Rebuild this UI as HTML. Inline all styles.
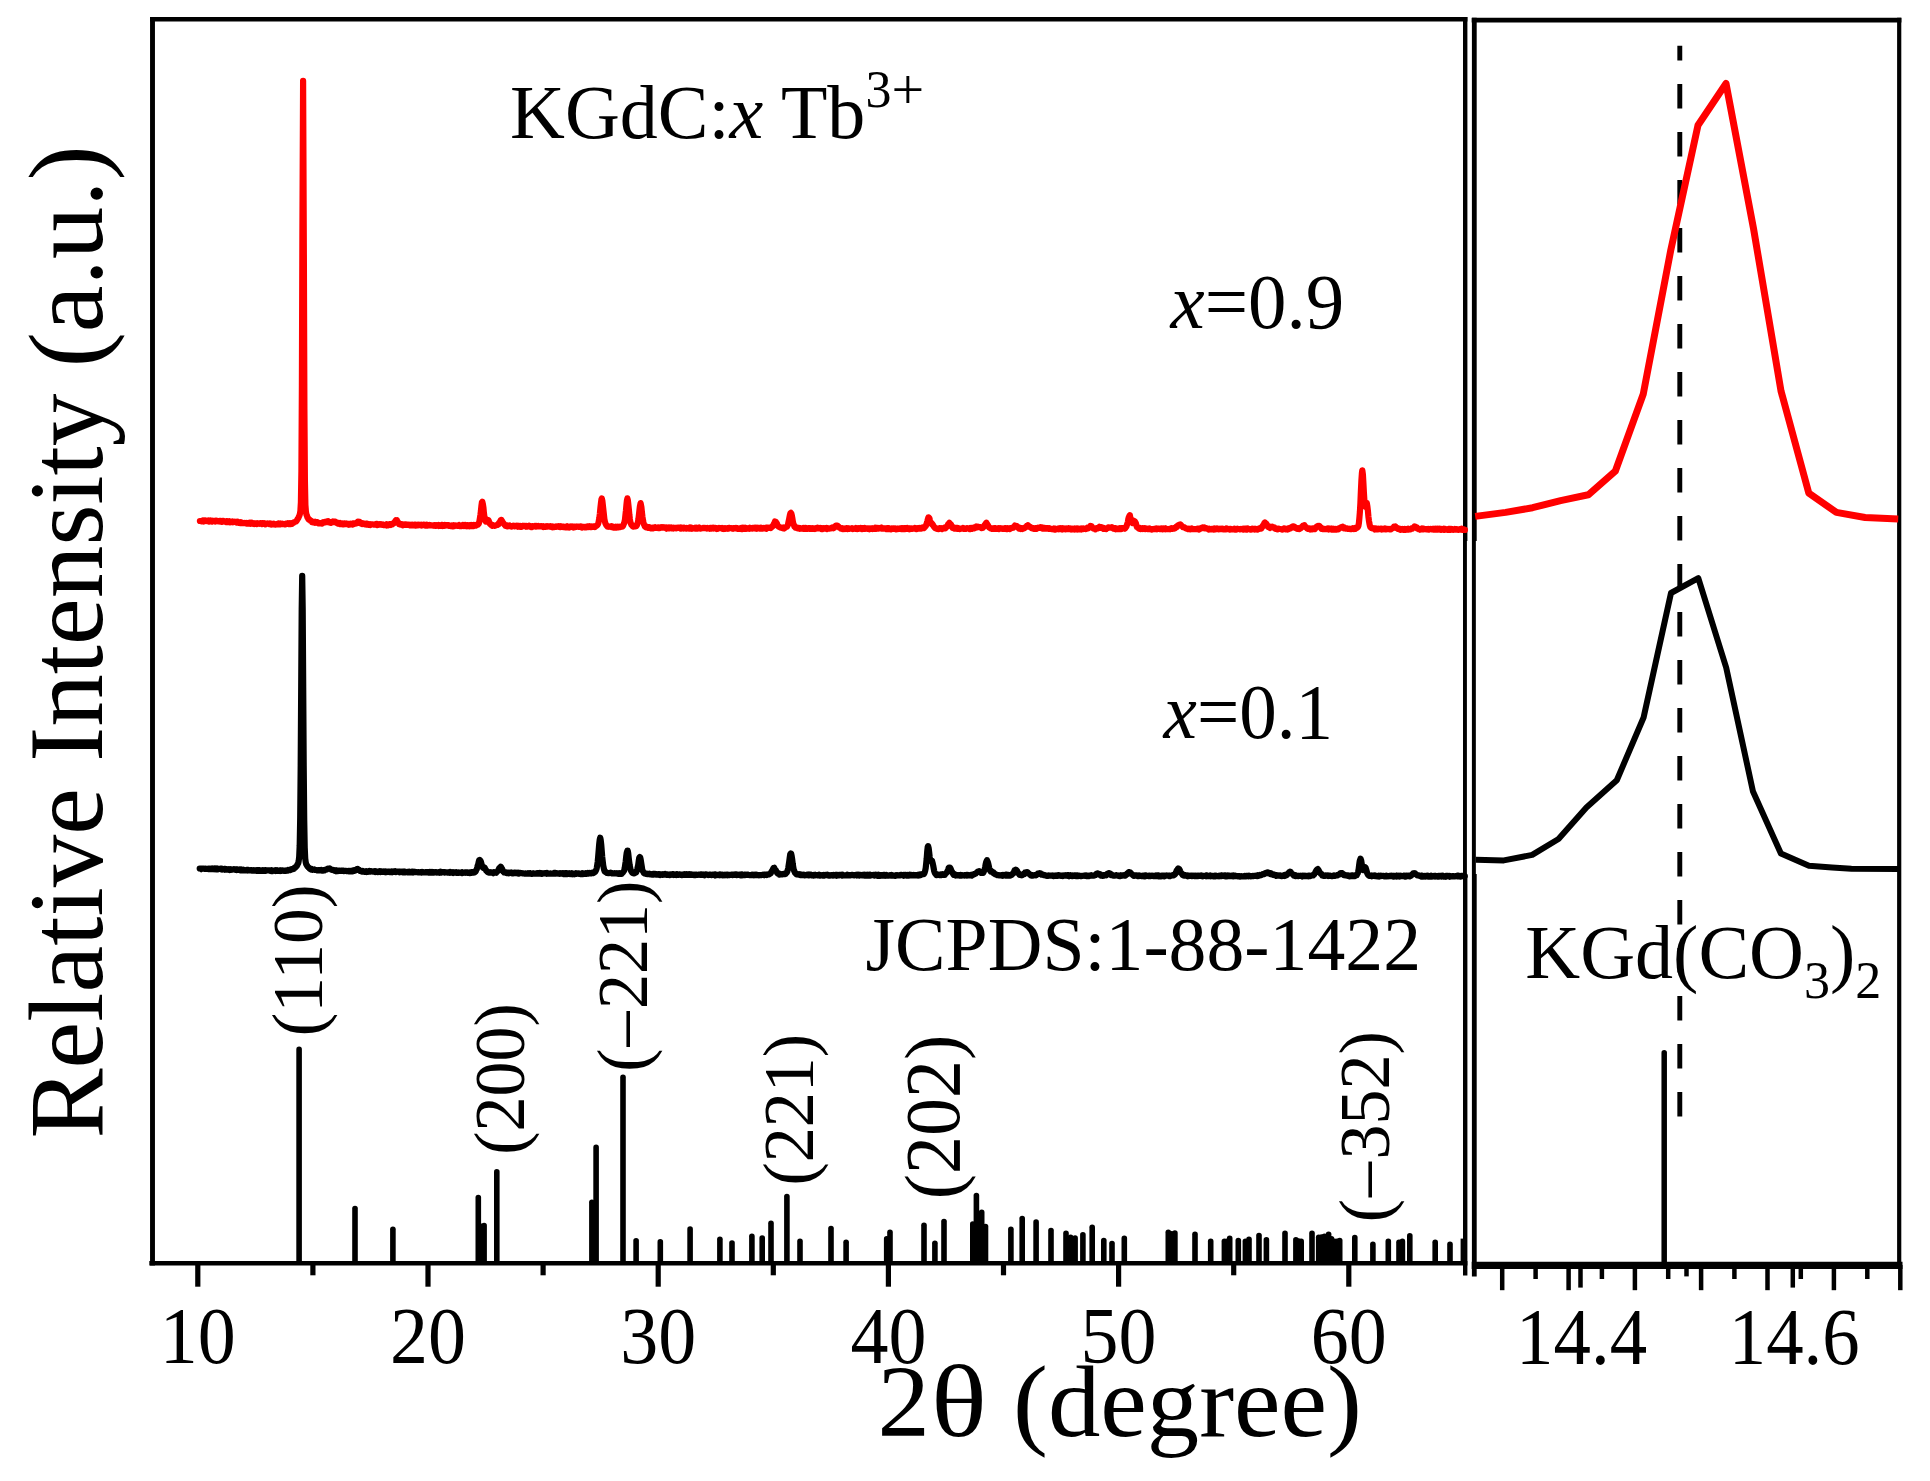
<!DOCTYPE html>
<html lang="en"><head><meta charset="utf-8"><title>XRD patterns of KGdC:x Tb3+</title>
<style>html,body{margin:0;padding:0;background:#fff}svg{display:block}text{font-family:"Liberation Serif","Times New Roman",Times,serif;fill:#000}.i{font-style:italic}</style></head><body>
<svg width="1930" height="1481" viewBox="0 0 1930 1481">
<rect width="1930" height="1481" fill="#fff"/>
<g stroke="#000" stroke-width="5.6" stroke-linecap="round">
<line x1="299.1" y1="1049.4" x2="299.1" y2="1262.3"/>
<line x1="355" y1="1208.6" x2="355" y2="1262.3"/>
<line x1="392.9" y1="1229.3" x2="392.9" y2="1262.3"/>
<line x1="478.3" y1="1197.6" x2="478.3" y2="1262.3"/>
<line x1="484.1" y1="1225.5" x2="484.1" y2="1262.3"/>
<line x1="496.8" y1="1171.7" x2="496.8" y2="1262.3"/>
<line x1="591.9" y1="1202.3" x2="591.9" y2="1262.3"/>
<line x1="596.1" y1="1147.4" x2="596.1" y2="1262.3"/>
<line x1="623" y1="1077.4" x2="623" y2="1262.3"/>
<line x1="636.1" y1="1240.7" x2="636.1" y2="1262.3"/>
<line x1="660.3" y1="1241.9" x2="660.3" y2="1262.3"/>
<line x1="690.1" y1="1229" x2="690.1" y2="1262.3"/>
<line x1="719.9" y1="1239.2" x2="719.9" y2="1262.3"/>
<line x1="732" y1="1243.1" x2="732" y2="1262.3"/>
<line x1="751.9" y1="1236.4" x2="751.9" y2="1262.3"/>
<line x1="762.2" y1="1238.1" x2="762.2" y2="1262.3"/>
<line x1="771" y1="1223.2" x2="771" y2="1262.3"/>
<line x1="786.9" y1="1196.6" x2="786.9" y2="1262.3"/>
<line x1="800" y1="1241.4" x2="800" y2="1262.3"/>
<line x1="831" y1="1228.6" x2="831" y2="1262.3"/>
<line x1="846.1" y1="1242.2" x2="846.1" y2="1262.3"/>
<line x1="886.7" y1="1238.9" x2="886.7" y2="1262.3"/>
<line x1="890" y1="1232.3" x2="890" y2="1262.3"/>
<line x1="924" y1="1225.3" x2="924" y2="1262.3"/>
<line x1="934.9" y1="1243.3" x2="934.9" y2="1262.3"/>
<line x1="944" y1="1221.5" x2="944" y2="1262.3"/>
<line x1="972.8" y1="1224" x2="972.8" y2="1262.3"/>
<line x1="976.4" y1="1195.5" x2="976.4" y2="1262.3"/>
<line x1="981.7" y1="1212.4" x2="981.7" y2="1262.3"/>
<line x1="985.5" y1="1226.5" x2="985.5" y2="1262.3"/>
<line x1="1010.9" y1="1229.3" x2="1010.9" y2="1262.3"/>
<line x1="1022.2" y1="1218.5" x2="1022.2" y2="1262.3"/>
<line x1="1036.1" y1="1222" x2="1036.1" y2="1262.3"/>
<line x1="1051" y1="1230.6" x2="1051" y2="1262.3"/>
<line x1="1066" y1="1233.4" x2="1066" y2="1262.3"/>
<line x1="1070.6" y1="1237.3" x2="1070.6" y2="1262.3"/>
<line x1="1075.1" y1="1238.1" x2="1075.1" y2="1262.3"/>
<line x1="1082.9" y1="1234.8" x2="1082.9" y2="1262.3"/>
<line x1="1092.2" y1="1227.3" x2="1092.2" y2="1262.3"/>
<line x1="1103.8" y1="1240.6" x2="1103.8" y2="1262.3"/>
<line x1="1112" y1="1243.6" x2="1112" y2="1262.3"/>
<line x1="1124.3" y1="1238.4" x2="1124.3" y2="1262.3"/>
<line x1="1168.3" y1="1232.3" x2="1168.3" y2="1262.3"/>
<line x1="1171.6" y1="1233.8" x2="1171.6" y2="1262.3"/>
<line x1="1174.9" y1="1233.1" x2="1174.9" y2="1262.3"/>
<line x1="1195" y1="1234.3" x2="1195" y2="1262.3"/>
<line x1="1210.7" y1="1241.4" x2="1210.7" y2="1262.3"/>
<line x1="1224.4" y1="1241.4" x2="1224.4" y2="1262.3"/>
<line x1="1229.7" y1="1238.4" x2="1229.7" y2="1262.3"/>
<line x1="1238.3" y1="1240.6" x2="1238.3" y2="1262.3"/>
<line x1="1245.4" y1="1241.4" x2="1245.4" y2="1262.3"/>
<line x1="1249" y1="1239.2" x2="1249" y2="1262.3"/>
<line x1="1259" y1="1235.6" x2="1259" y2="1262.3"/>
<line x1="1266.4" y1="1239.7" x2="1266.4" y2="1262.3"/>
<line x1="1285" y1="1233.4" x2="1285" y2="1262.3"/>
<line x1="1295.9" y1="1239.7" x2="1295.9" y2="1262.3"/>
<line x1="1301.2" y1="1241.4" x2="1301.2" y2="1262.3"/>
<line x1="1312" y1="1233.4" x2="1312" y2="1262.3"/>
<line x1="1318.7" y1="1237.3" x2="1318.7" y2="1262.3"/>
<line x1="1324.5" y1="1236.4" x2="1324.5" y2="1262.3"/>
<line x1="1328.6" y1="1234.3" x2="1328.6" y2="1262.3"/>
<line x1="1334.4" y1="1241.4" x2="1334.4" y2="1262.3"/>
<line x1="1339.7" y1="1240.6" x2="1339.7" y2="1262.3"/>
<line x1="1354.8" y1="1237.6" x2="1354.8" y2="1262.3"/>
<line x1="1372.9" y1="1244.4" x2="1372.9" y2="1262.3"/>
<line x1="1388.3" y1="1241.4" x2="1388.3" y2="1262.3"/>
<line x1="1399" y1="1242.2" x2="1399" y2="1262.3"/>
<line x1="1402.4" y1="1241.4" x2="1402.4" y2="1262.3"/>
<line x1="1298.5" y1="1241" x2="1298.5" y2="1262.3"/>
<line x1="1321.6" y1="1237" x2="1321.6" y2="1262.3"/>
<line x1="1331.5" y1="1238.8" x2="1331.5" y2="1262.3"/>
<line x1="1337" y1="1241.4" x2="1337" y2="1262.3"/>
<line x1="1227" y1="1241.2" x2="1227" y2="1262.3"/>
<line x1="481.2" y1="1226.3" x2="481.2" y2="1262.3"/>
<line x1="1409.8" y1="1235.9" x2="1409.8" y2="1262.3"/>
<line x1="1435.2" y1="1242.2" x2="1435.2" y2="1262.3"/>
<line x1="1450" y1="1244.4" x2="1450" y2="1262.3"/>
</g>
<rect x="1460.6" y="1238.6" width="4" height="24" fill="#000"/>
<g fill="none" stroke="#000">
<line x1="152.5" y1="16.9" x2="152.5" y2="1265.6" stroke-width="4.9"/>
<line x1="150" y1="19.2" x2="1467.4" y2="19.2" stroke-width="4.6"/>
<line x1="149.3" y1="1263.3" x2="1467.4" y2="1263.3" stroke-width="4.6"/>
<path d="M1463 16.9H1467.4V541H1466.9V874H1467.4V1275.6H1463Z" fill="#000" stroke="none"/>
</g>
<g stroke="#000" stroke-width="5.2">
<line x1="197.8" y1="1263" x2="197.8" y2="1286.7"/>
<line x1="428" y1="1263" x2="428" y2="1286.7"/>
<line x1="658.2" y1="1263" x2="658.2" y2="1286.7"/>
<line x1="888.4" y1="1263" x2="888.4" y2="1286.7"/>
<line x1="1118.6" y1="1263" x2="1118.6" y2="1286.7"/>
<line x1="1348.8" y1="1263" x2="1348.8" y2="1286.7"/>
<line x1="312.9" y1="1263" x2="312.9" y2="1275.3"/>
<line x1="543.1" y1="1263" x2="543.1" y2="1275.3"/>
<line x1="773.3" y1="1263" x2="773.3" y2="1275.3"/>
<line x1="1003.5" y1="1263" x2="1003.5" y2="1275.3"/>
<line x1="1233.7" y1="1263" x2="1233.7" y2="1275.3"/>
</g>
<g fill="none" stroke="#000">
<path d="M1471.9 17.8H1476.7V541H1475.85V874H1476.7V1276.4H1471.9Z" fill="#000" stroke="none"/>
<line x1="1471.7" y1="20.1" x2="1901.4" y2="20.1" stroke-width="4.7"/>
<line x1="1899.2" y1="17.8" x2="1899.2" y2="1266" stroke-width="4.2"/>
<line x1="1471.7" y1="1265.3" x2="1902.5" y2="1265.3" stroke-width="7.2"/>
</g>
<g stroke="#000" stroke-width="4.5">
<line x1="1502.2" y1="1265" x2="1502.2" y2="1290.2"/>
<line x1="1568.6" y1="1265" x2="1568.6" y2="1290.2"/>
<line x1="1634.9" y1="1265" x2="1634.9" y2="1290.2"/>
<line x1="1701.1" y1="1265" x2="1701.1" y2="1290.2"/>
<line x1="1767.5" y1="1265" x2="1767.5" y2="1290.2"/>
<line x1="1833.9" y1="1265" x2="1833.9" y2="1290.2"/>
<line x1="1900.3" y1="1265" x2="1900.3" y2="1290.2"/>
<line x1="1535.6" y1="1265" x2="1535.6" y2="1279"/>
<line x1="1601.9" y1="1265" x2="1601.9" y2="1279"/>
<line x1="1668.2" y1="1265" x2="1668.2" y2="1279"/>
<line x1="1734.4" y1="1265" x2="1734.4" y2="1279"/>
<line x1="1800.8" y1="1265" x2="1800.8" y2="1279"/>
<line x1="1867.3" y1="1265" x2="1867.3" y2="1279"/>
<line x1="1580.5" y1="1265" x2="1580.5" y2="1287.6"/>
<line x1="1792.8" y1="1265" x2="1792.8" y2="1287.6"/>
<line x1="1686.5" y1="1265" x2="1686.5" y2="1276.4"/>
</g>
<polyline points="199.7,868.5 200.2,868.5 200.7,868.6 201.2,869.1 201.7,868.6 202.2,868.5 202.7,868.5 203.2,868.6 203.7,868.7 204.2,868.7 204.7,868.9 205.2,868.5 205.7,868.6 206.2,868.5 206.7,869 207.2,869 207.7,868.9 208.2,868.7 208.7,869.1 209.2,869.2 209.7,868.5 210.2,868.6 210.7,868.6 211.2,868.8 211.7,869.1 212.2,868.6 212.7,869 213.2,869.1 213.7,868.7 214.2,869.3 214.7,869.2 215.2,868.6 215.7,869.3 216.2,869.3 216.7,869.3 217.2,868.6 217.7,869.4 218.2,869.2 218.7,868.8 219.2,868.9 219.7,868.8 220.2,868.7 220.7,868.7 221.2,869.2 221.7,868.8 222.2,869.4 222.7,869 223.2,869.4 223.7,869.5 224.2,869.1 224.7,869.6 225.2,869.1 225.7,869.6 226.2,869.4 226.7,869.2 227.2,869.6 227.7,869.3 228.2,869.2 228.7,869.5 229.2,869.3 229.7,869.9 230.2,869.3 230.7,869.9 231.2,869.6 231.7,869.3 232.2,869.6 232.7,869.5 233.2,869.5 233.7,869.2 234.2,869.4 234.7,869.7 235.2,869.8 235.7,869.4 236.2,869.3 236.7,869.9 237.2,869.4 237.7,869.5 238.2,869.6 238.7,869.9 239.2,870 239.7,869.5 240.2,870.3 240.7,870.2 241.2,869.6 241.7,870.2 242.2,869.9 242.7,870.2 243.2,869.7 243.7,870.3 244.2,870.4 244.7,870.3 245.2,870.5 245.7,870.3 246.2,870.4 246.7,869.9 247.2,869.9 247.7,870.4 248.2,870 248.7,870.2 249.2,870.4 249.7,870.5 250.2,870.4 250.7,870 251.2,870.1 251.7,870.6 252.2,870.6 252.7,870.5 253.2,870.2 253.7,870.6 254.2,870.5 254.7,870.3 255.2,870.7 255.7,870.5 256.2,870.2 256.7,870.8 257.2,870.6 257.7,870.2 258.2,870.8 258.7,870.2 259.2,870.2 259.7,870.2 260.2,870.3 260.7,870.9 261.2,870.7 261.7,870.9 262.2,870.8 262.7,870.3 263.2,870.9 263.7,870.8 264.2,870.8 264.7,870.9 265.2,870.3 265.7,870.8 266.2,870.3 266.7,870.4 267.2,870.5 267.7,870.4 268.2,870.5 268.7,870.4 269.2,870.3 269.7,870.3 270.2,870.8 270.7,870.5 271.2,871 271.7,870.4 272.2,871 272.7,870.5 273.2,870.5 273.7,870.6 274.2,870.7 274.7,870.6 275.2,870.9 275.7,870.2 276.2,870.3 276.7,870.2 277.2,870.8 277.7,870.5 278.2,870.5 278.7,870.8 279.2,870.5 279.7,870.3 280.2,871 280.7,870.5 281.2,870.8 281.7,870.9 282.2,870.5 282.7,870.4 283.2,870.6 283.7,870.9 284.2,870.7 284.7,870.5 285.2,870.5 285.7,870.9 286.2,870.7 286.7,870.5 287.2,870.7 287.7,870.6 288.2,869.9 288.7,870.3 289.2,870.2 289.7,870.2 290.2,870.1 290.7,869.4 291.2,869.1 291.7,869.2 292.2,869.3 292.7,868.8 293.2,868.6 293.7,868.8 294.2,868 294.7,867.7 295.2,867.7 295.7,866.8 296.2,866.6 296.7,866.2 297.2,865.2 297.7,864 298.2,863.3 298.7,861 299.2,856.7 299.7,845.5 300.2,818 300.7,765.1 301.2,686.7 301.7,609.5 302.2,575.8 302.7,609.9 303.2,687.8 303.7,765.4 304.2,819.2 304.7,847.4 305.2,858.5 305.7,862.2 306.2,864.2 306.7,865 307.2,865.9 307.7,866.7 308.2,867.1 308.7,867.7 309.2,868 309.7,868.7 310.2,869 310.7,868.9 311.2,869.5 311.7,869.1 312.2,869.6 312.7,869.8 313.2,869.7 313.7,869.7 314.2,869.4 314.7,869.9 315.2,870 315.7,870 316.2,870 316.7,870.1 317.2,870.3 317.7,870.5 318.2,870.2 318.7,870.1 319.2,870.4 319.7,870.2 320.2,870.4 320.7,870.2 321.2,870 321.7,870.6 322.2,870.5 322.7,870.6 323.2,870.6 323.7,870.2 324.2,870.5 324.7,870.4 325.2,869.9 325.7,869.7 326.2,869.5 326.7,869.5 327.2,869.1 327.7,868.7 328.2,868.7 328.7,868.5 329.2,868.7 329.7,868.4 330.2,868.8 330.7,869.1 331.2,869.5 331.7,869.8 332.2,869.7 332.7,869.9 333.2,870 333.7,870.2 334.2,870.5 334.7,870.9 335.2,870.5 335.7,870.4 336.2,871.2 336.7,870.5 337.2,870.7 337.7,871.1 338.2,870.9 338.7,870.5 339.2,870.6 339.7,870.7 340.2,871 340.7,870.8 341.2,871 341.7,871 342.2,870.6 342.7,870.5 343.2,870.7 343.7,871.1 344.2,870.9 344.7,870.8 345.2,870.8 345.7,871 346.2,870.8 346.7,871.1 347.2,871.2 347.7,871.1 348.2,870.9 348.7,871.3 349.2,871 349.7,871.5 350.2,871.5 350.7,871 351.2,871.4 351.7,871.2 352.2,870.8 352.7,871.3 353.2,870.6 353.7,871 354.2,870.9 354.7,870.2 355.2,870.6 355.7,870.1 356.2,870.1 356.7,869.2 357.2,869.5 357.7,869 358.2,869.6 358.7,869.7 359.2,869.8 359.7,870.6 360.2,871 360.7,870.9 361.2,871.3 361.7,871.2 362.2,871.5 362.7,871 363.2,871.2 363.7,871.4 364.2,871.7 364.7,871.9 365.2,871.9 365.7,871.7 366.2,871.2 366.7,871.9 367.2,871.6 367.7,871.8 368.2,871.6 368.7,871.4 369.2,871 369.7,871.6 370.2,871.4 370.7,871.6 371.2,871.2 371.7,871.4 372.2,871.3 372.7,871.6 373.2,871.6 373.7,871.5 374.2,871.2 374.7,871.5 375.2,872 375.7,871.3 376.2,872 376.7,871.9 377.2,871.6 377.7,872.1 378.2,871.9 378.7,871.7 379.2,871.9 379.7,871.3 380.2,872.1 380.7,872.1 381.2,871.5 381.7,871.8 382.2,871.5 382.7,871.5 383.2,871.9 383.7,871.5 384.2,871.8 384.7,871.6 385.2,872.1 385.7,871.6 386.2,872 386.7,872.2 387.2,871.8 387.7,871.5 388.2,871.5 388.7,871.8 389.2,871.6 389.7,872.2 390.2,872.1 390.7,872.2 391.2,872.1 391.7,871.5 392.2,872.2 392.7,871.8 393.2,871.4 393.7,871.6 394.2,871.7 394.7,871.9 395.2,871.4 395.7,872 396.2,871.8 396.7,871.8 397.2,871.8 397.7,871.7 398.2,871.5 398.7,871.7 399.2,871.6 399.7,872.2 400.2,871.6 400.7,871.9 401.2,871.7 401.7,871.8 402.2,871.6 402.7,872.2 403.2,871.7 403.7,871.6 404.2,872.2 404.7,871.6 405.2,871.7 405.7,872.3 406.2,872.2 406.7,872.1 407.2,871.8 407.7,871.8 408.2,872.4 408.7,872.2 409.2,871.8 409.7,872.4 410.2,872.2 410.7,872.4 411.2,872 411.7,871.7 412.2,871.6 412.7,871.6 413.2,872.4 413.7,871.9 414.2,872 414.7,871.8 415.2,871.8 415.7,872.2 416.2,872 416.7,872.1 417.2,872 417.7,872.3 418.2,872.1 418.7,872.2 419.2,872.4 419.7,872.5 420.2,872.1 420.7,872.5 421.2,872.5 421.7,872.6 422.2,872 422.7,872.4 423.2,872.2 423.7,872.3 424.2,872.3 424.7,872.4 425.2,872.5 425.7,872.2 426.2,872 426.7,872.3 427.2,872.3 427.7,872.1 428.2,872.5 428.7,872.6 429.2,872.2 429.7,872 430.2,872.7 430.7,872.5 431.2,872.7 431.7,872.6 432.2,872 432.7,872.3 433.2,872.1 433.7,872.6 434.2,872.4 434.7,872.4 435.2,872.1 435.7,872 436.2,872 436.7,872.6 437.2,872.5 437.7,872.4 438.2,872.5 438.7,872.4 439.2,872.7 439.7,872 440.2,872.5 440.7,871.8 441.2,872.5 441.7,872.3 442.2,872.4 442.7,872.1 443.2,872 443.7,872.1 444.2,872.3 444.7,872.5 445.2,872.1 445.7,872.4 446.2,872.4 446.7,872.3 447.2,872.6 447.7,872.3 448.2,872.5 448.7,872.7 449.2,872.3 449.7,872.7 450.2,872.1 450.7,872.7 451.2,872.7 451.7,872.6 452.2,872.3 452.7,872.2 453.2,872.9 453.7,872.4 454.2,872.3 454.7,872.4 455.2,872.3 455.7,872.7 456.2,872.2 456.7,872.9 457.2,872.8 457.7,873 458.2,872.9 458.7,872.4 459.2,872.8 459.7,872.7 460.2,872.5 460.7,872.6 461.2,872.5 461.7,873 462.2,872.4 462.7,873.1 463.2,872.4 463.7,872.6 464.2,872.7 464.7,872.4 465.2,872.8 465.7,872.4 466.2,872.6 466.7,872.4 467.2,872.8 467.7,872.4 468.2,872.8 468.7,872.8 469.2,872.5 469.7,873.1 470.2,872.8 470.7,872.7 471.2,872.3 471.7,872.8 472.2,872.3 472.7,872 473.2,872.2 473.7,872.5 474.2,871.9 474.7,872.3 475.2,871.4 475.7,871.5 476.2,870 476.7,869.3 477.2,867.6 477.7,865.6 478.2,864.3 478.7,861.9 479.2,860.2 479.7,859.9 480.2,860.3 480.7,861.2 481.2,862.9 481.7,864.8 482.2,866 482.7,867.4 483.2,867.8 483.7,868 484.2,867.5 484.7,867.7 485.2,868.9 485.7,869.7 486.2,870.5 486.7,870.9 487.2,871.7 487.7,872.1 488.2,872.4 488.7,872.7 489.2,872.6 489.7,872.6 490.2,872.2 490.7,872.5 491.2,872.6 491.7,872.3 492.2,872.6 492.7,872.5 493.2,873.1 493.7,872.2 494.2,872.5 494.7,872.3 495.2,872.3 495.7,872.5 496.2,872.7 496.7,871.8 497.2,871.5 497.7,871.1 498.2,870.7 498.7,869.4 499.2,868.3 499.7,867.7 500.2,867.3 500.7,866.7 501.2,867.3 501.7,868.5 502.2,869.1 502.7,870.6 503.2,871.5 503.7,871.8 504.2,872.4 504.7,872.2 505.2,872.1 505.7,872.8 506.2,872.4 506.7,873 507.2,872.6 507.7,872.6 508.2,872.8 508.7,873.3 509.2,872.6 509.7,872.8 510.2,872.8 510.7,872.8 511.2,872.5 511.7,872.8 512.2,873.4 512.7,873.3 513.2,873.4 513.7,872.9 514.2,873.1 514.7,872.7 515.2,872.7 515.7,873.2 516.2,873.2 516.7,872.8 517.2,873.1 517.7,873.4 518.2,872.8 518.7,873.6 519.2,873.2 519.7,873 520.2,872.9 520.7,873.1 521.2,873.2 521.7,873.2 522.2,873.2 522.7,873.3 523.2,873.5 523.7,873.4 524.2,873.7 524.7,873.6 525.2,873.5 525.7,873.4 526.2,873.7 526.7,873.7 527.2,873.6 527.7,873.7 528.2,873.2 528.7,873.3 529.2,873.3 529.7,873.2 530.2,873.6 530.7,873.4 531.2,873.8 531.7,873.8 532.2,873.8 532.7,873.4 533.2,873.5 533.7,873.3 534.2,873.5 534.7,873.6 535.2,873.6 535.7,873.3 536.2,873.7 536.7,873.7 537.2,873 537.7,873.1 538.2,873.3 538.7,873.2 539.2,873.5 539.7,873.1 540.2,873.6 540.7,873.4 541.2,873.8 541.7,873.3 542.2,873.8 542.7,873.4 543.2,873.5 543.7,873.5 544.2,873.3 544.7,873.2 545.2,873.1 545.7,873.1 546.2,873.1 546.7,873.8 547.2,873.1 547.7,873.6 548.2,873.4 548.7,873.7 549.2,873.7 549.7,873.7 550.2,873.4 550.7,873.5 551.2,873.7 551.7,873.5 552.2,873.5 552.7,873.6 553.2,873.7 553.7,873.6 554.2,873 554.7,873.2 555.2,873 555.7,873.6 556.2,873.3 556.7,873.1 557.2,873.3 557.7,873.4 558.2,873.6 558.7,873.5 559.2,873.3 559.7,873.8 560.2,873.2 560.7,873.4 561.2,873.7 561.7,873.4 562.2,873.2 562.7,873.8 563.2,873.7 563.7,874 564.2,873.3 564.7,873.6 565.2,873.3 565.7,873.9 566.2,873.4 566.7,874 567.2,873.5 567.7,873.3 568.2,873.3 568.7,873.4 569.2,873.9 569.7,873.4 570.2,873.8 570.7,874.1 571.2,873.9 571.7,873.4 572.2,874.2 572.7,874.3 573.2,873.5 573.7,873.6 574.2,873.6 574.7,874.1 575.2,873.6 575.7,873.3 576.2,873.8 576.7,873.6 577.2,873.5 577.7,873.3 578.2,873.4 578.7,873.4 579.2,873.5 579.7,874 580.2,874 580.7,874.1 581.2,873.8 581.7,873.8 582.2,873.3 582.7,874.1 583.2,873.8 583.7,874 584.2,873.7 584.7,873.4 585.2,873.8 585.7,873.3 586.2,873.9 586.7,873.9 587.2,873.5 587.7,873.1 588.2,873.6 588.7,873.5 589.2,873.4 589.7,873 590.2,873.4 590.7,873.5 591.2,873 591.7,873.2 592.2,872.7 592.7,873.1 593.2,873.1 593.7,872.9 594.2,872.5 594.7,871.8 595.2,871.9 595.7,870.9 596.2,869.9 596.7,868.3 597.2,865.2 597.7,861.9 598.2,856.3 598.7,850.3 599.2,844.1 599.7,839.8 600.2,837.7 600.7,840 601.2,844.3 601.7,850.6 602.2,856.8 602.7,861.1 603.2,865.4 603.7,867.8 604.2,870 604.7,871.5 605.2,871.4 605.7,872.2 606.2,872.3 606.7,872.8 607.2,873 607.7,873 608.2,873.1 608.7,873.2 609.2,873.2 609.7,872.8 610.2,872.9 610.7,872.7 611.2,873 611.7,873.2 612.2,873.5 612.7,873.4 613.2,873.4 613.7,873.5 614.2,873.3 614.7,873.1 615.2,873.3 615.7,873.4 616.2,873.3 616.7,873.2 617.2,873.6 617.7,873.5 618.2,873.9 618.7,873.7 619.2,873.2 619.7,873.8 620.2,873.9 620.7,873.4 621.2,873.5 621.7,873.7 622.2,872.8 622.7,872.7 623.2,872 623.7,871.3 624.2,870.4 624.7,868.1 625.2,864.7 625.7,861.4 626.2,856.5 626.7,852.9 627.4,850.5 627.7,850.5 628.2,853 628.7,857.8 629.2,861.8 629.7,865.4 630.2,867.8 630.7,870.2 631.2,871 631.7,871.9 632.2,872.7 632.7,873.1 633.2,872.7 633.7,873.3 634.2,872.7 634.7,873.1 635.2,872.8 635.7,872.7 636.2,872.4 636.7,870.8 637.2,869.5 637.7,867.3 638.2,865 638.7,861.2 639.2,857.9 639.8,857 640.2,857.4 640.7,859.7 641.2,863 641.7,866.1 642.2,869.4 642.7,870.9 643.2,871.7 643.7,872.7 644.2,873.2 644.7,873.5 645.2,873.5 645.7,873.8 646.2,873.7 646.7,873.6 647.2,874.2 647.7,874.2 648.2,874.1 648.7,874.1 649.2,873.8 649.7,874.3 650.2,874.4 650.7,874.4 651.2,874.2 651.7,874.5 652.2,874.2 652.7,874.6 653.2,874 653.7,874.4 654.2,873.8 654.7,873.9 655.2,874.3 655.7,874.5 656.2,874.6 656.7,874.2 657.2,874.6 657.7,874.5 658.2,874.1 658.7,874.2 659.2,874.8 659.7,874.3 660.2,874.9 660.7,874.3 661.2,874.4 661.7,874.3 662.2,874.5 662.7,874.8 663.2,874.2 663.7,874.5 664.2,874.6 664.7,874.6 665.2,874.1 665.7,874.5 666.2,874.7 666.7,874.9 667.2,874.4 667.7,874.5 668.2,874.6 668.7,874.9 669.2,874.9 669.7,875.1 670.2,874.5 670.7,874.9 671.2,874.8 671.7,874.3 672.2,874.2 672.7,874.4 673.2,874.9 673.7,874.2 674.2,874.8 674.7,874.6 675.2,874.5 675.7,874.5 676.2,874.9 676.7,874.3 677.2,874.7 677.7,874.5 678.2,874.9 678.7,874.6 679.2,874.4 679.7,874.5 680.2,874.8 680.7,874.5 681.2,874.5 681.7,875 682.2,874.7 682.7,874.7 683.2,874.5 683.7,874.4 684.2,874.8 684.7,874.3 685.2,874.8 685.7,874.6 686.2,874.8 686.7,874.2 687.2,874.7 687.7,874.8 688.2,874.6 688.7,874.8 689.2,874.2 689.7,874.9 690.2,874.9 690.7,874.3 691.2,874.4 691.7,874.5 692.2,875 692.7,874.9 693.2,874.7 693.7,874.9 694.2,875.1 694.7,874.7 695.2,874.7 695.7,875.1 696.2,874.7 696.7,874.6 697.2,874.9 697.7,874.9 698.2,874.7 698.7,874.6 699.2,874.6 699.7,874.7 700.2,874.9 700.7,874.3 701.2,874.4 701.7,874.9 702.2,874.7 702.7,874.5 703.2,874.8 703.7,874.5 704.2,874.6 704.7,875.2 705.2,874.5 705.7,874.4 706.2,874.3 706.7,874.5 707.2,874.6 707.7,874.8 708.2,875.1 708.7,874.8 709.2,874.6 709.7,874.8 710.2,874.6 710.7,874.7 711.2,874.8 711.7,875 712.2,874.6 712.7,874.8 713.2,874.7 713.7,874.7 714.2,875.1 714.7,874.6 715.2,875.4 715.7,874.6 716.2,875 716.7,875.1 717.2,875 717.7,874.9 718.2,874.8 718.7,874.6 719.2,875.1 719.7,874.6 720.2,875 720.7,874.7 721.2,875.1 721.7,874.7 722.2,874.6 722.7,875.3 723.2,875 723.7,875 724.2,874.8 724.7,875.2 725.2,874.7 725.7,874.8 726.2,874.9 726.7,874.5 727.2,874.6 727.7,875.2 728.2,874.9 728.7,874.8 729.2,875.2 729.7,874.9 730.2,874.8 730.7,874.9 731.2,874.7 731.7,874.6 732.2,874.9 732.7,875.1 733.2,874.7 733.7,874.6 734.2,874.6 734.7,874.9 735.2,874.5 735.7,874.4 736.2,874.9 736.7,875.1 737.2,874.5 737.7,874.6 738.2,874.6 738.7,874.9 739.2,874.5 739.7,874.6 740.2,875.3 740.7,875.3 741.2,875.2 741.7,874.6 742.2,875.2 742.7,874.7 743.2,875.1 743.7,874.9 744.2,874.6 744.7,874.7 745.2,875.1 745.7,874.7 746.2,874.9 746.7,874.8 747.2,874.5 747.7,874.6 748.2,875 748.7,874.9 749.2,875.2 749.7,875.1 750.2,875.1 750.7,875.2 751.2,874.9 751.7,875.1 752.2,874.6 752.7,874.8 753.2,875.2 753.7,875.3 754.2,874.8 754.7,874.7 755.2,874.7 755.7,875.1 756.2,875.2 756.7,874.6 757.2,874.9 757.7,875.2 758.2,875 758.7,875.1 759.2,875.3 759.7,875.2 760.2,875.2 760.7,875.2 761.2,875.2 761.7,875 762.2,874.8 762.7,875 763.2,874.9 763.7,874.6 764.2,875.1 764.7,874.6 765.2,874.6 765.7,874.7 766.2,874.7 766.7,875 767.2,874.7 767.7,874.5 768.2,874.4 768.7,874.5 769.2,874.4 769.7,873.9 770.2,873.6 770.7,873.4 771.2,872.1 771.7,871.3 772.2,870.6 772.7,869.9 773.2,868.6 773.7,868 774.2,867.8 774.7,869 775.2,869.6 775.7,870.1 776.2,871 776.7,871.9 777.2,873.1 777.7,873.4 778.2,873.9 778.7,873.9 779.2,874.5 779.7,873.9 780.2,874.5 780.7,874.5 781.2,874.3 781.7,874.5 782.2,874.2 782.7,874.3 783.2,874 783.7,873.9 784.2,873.9 784.7,874.1 785.2,874.1 785.7,873.8 786.2,872.9 786.7,872.7 787.2,871.8 787.7,870 788.2,868.3 788.7,864.9 789.2,861.6 789.7,857.9 790.2,854.4 790.8,853.4 791.2,853.8 791.7,856.2 792.2,859.5 792.7,863.6 793.2,866.7 793.7,869.5 794.2,870.9 794.7,872 795.2,873.1 795.7,873.1 796.2,874 796.7,874.3 797.2,873.9 797.7,874.3 798.2,874.7 798.7,874.5 799.2,874.2 799.7,874.5 800.2,875 800.7,874.5 801.2,875 801.7,874.6 802.2,874.9 802.7,875.1 803.2,875.2 803.7,874.7 804.2,875.3 804.7,875.3 805.2,875.3 805.7,875.2 806.2,875.1 806.7,875.2 807.2,874.6 807.7,874.6 808.2,875.3 808.7,874.8 809.2,875.3 809.7,874.7 810.2,874.5 810.7,874.7 811.2,875.2 811.7,875.4 812.2,875.2 812.7,875.1 813.2,875.2 813.7,875.5 814.2,874.8 814.7,874.9 815.2,875.3 815.7,874.9 816.2,875.2 816.7,875 817.2,875.3 817.7,875.1 818.2,875.4 818.7,875.5 819.2,874.9 819.7,875.5 820.2,874.9 820.7,875.3 821.2,875.5 821.7,875.3 822.2,875.1 822.7,875.5 823.2,875.3 823.7,874.9 824.2,875.5 824.7,875.3 825.2,875 825.7,874.8 826.2,874.9 826.7,875.1 827.2,874.7 827.7,875.3 828.2,875 828.7,875.5 829.2,875.2 829.7,875.4 830.2,875.6 830.7,875.3 831.2,875 831.7,875 832.2,875.4 832.7,875.5 833.2,875.6 833.7,875 834.2,875.3 834.7,875.3 835.2,875 835.7,874.9 836.2,874.9 836.7,875.7 837.2,874.9 837.7,875.1 838.2,875.5 838.7,875.4 839.2,874.8 839.7,874.9 840.2,875 840.7,874.9 841.2,874.8 841.7,875.2 842.2,875.5 842.7,874.9 843.2,875.4 843.7,875.5 844.2,875.3 844.7,875.3 845.2,875.4 845.7,875.3 846.2,875.5 846.7,875.3 847.2,874.8 847.7,875.3 848.2,874.9 848.7,875.4 849.2,875.1 849.7,875.1 850.2,875.4 850.7,875.3 851.2,875 851.7,874.8 852.2,875.1 852.7,874.9 853.2,875.2 853.7,875.3 854.2,875.4 854.7,875.3 855.2,875 855.7,874.8 856.2,874.9 856.7,875.4 857.2,874.8 857.7,875.3 858.2,875.3 858.7,874.8 859.2,875.5 859.7,875.3 860.2,875 860.7,874.8 861.2,875.2 861.7,875.1 862.2,875.4 862.7,874.9 863.2,875.2 863.7,875.2 864.2,874.7 864.7,875.5 865.2,874.9 865.7,874.9 866.2,875.4 866.7,874.9 867.2,874.9 867.7,875.5 868.2,874.9 868.7,874.8 869.2,875.3 869.7,875.5 870.2,874.9 870.7,875.6 871.2,875 871.7,875.2 872.2,875 872.7,875 873.2,874.8 873.7,874.8 874.2,875.5 874.7,875.2 875.2,875.4 875.7,874.9 876.2,875.5 876.7,875.4 877.2,875.7 877.7,875.2 878.2,874.8 878.7,875.7 879.2,875.4 879.7,875.8 880.2,875.5 880.7,875.2 881.2,875 881.7,875.1 882.2,875.6 882.7,875.4 883.2,875.6 883.7,874.9 884.2,874.9 884.7,875 885.2,875.7 885.7,875.2 886.2,875 886.7,875.6 887.2,875.7 887.7,875.4 888.2,875.6 888.7,875.3 889.2,875.6 889.7,875.3 890.2,875 890.7,875.2 891.2,875.5 891.7,875 892.2,875.3 892.7,875.4 893.2,875.7 893.7,875.6 894.2,875.7 894.7,875.7 895.2,875.9 895.7,875.8 896.2,875.2 896.7,875.3 897.2,875.1 897.7,875.3 898.2,875.4 898.7,875.5 899.2,875.5 899.7,875.4 900.2,875.5 900.7,874.9 901.2,874.9 901.7,875 902.2,875.2 902.7,875.3 903.2,875 903.7,875.7 904.2,875.1 904.7,875 905.2,874.9 905.7,875 906.2,875.4 906.7,875.6 907.2,875.1 907.7,875.6 908.2,875.5 908.7,875 909.2,875.4 909.7,874.9 910.2,875.4 910.7,875.2 911.2,875.4 911.7,875 912.2,875.3 912.7,875.5 913.2,875.4 913.7,875 914.2,875.4 914.7,875.5 915.2,875.1 915.7,875.3 916.2,875.1 916.7,875.2 917.2,875 917.7,874.8 918.2,875.4 918.7,874.9 919.2,874.8 919.7,875.2 920.2,874.5 920.7,875 921.2,874.5 921.7,874.7 922.2,874.4 922.7,874.2 923.2,874.1 923.7,874.2 924.2,873.6 924.7,872.3 925.2,870.6 925.7,868.1 926.2,863.3 926.7,858.4 927.2,851.7 927.7,847 928.1,846.1 928.7,848.3 929.2,852.6 929.7,857.2 930.2,860.2 930.7,861.1 931.2,861.2 932,860.7 932.7,863.4 933.2,865.6 933.7,868.4 934.2,871.1 934.7,872.7 935.2,873.7 935.7,874.1 936.2,874.9 936.7,874.4 937.2,875.1 937.7,874.5 938.2,874.7 938.7,874.9 939.2,875.2 939.7,875 940.2,874.6 940.7,874.4 941.2,875.1 941.7,874.8 942.2,874.9 942.7,874.4 943.2,874.9 943.7,874.7 944.2,874.9 944.7,874.9 945.2,874 945.7,873.6 946.2,873.1 946.7,872.6 947.2,871.6 947.7,870.9 948.2,869.9 948.7,867.8 949.2,867.5 949.7,867.5 950.2,867.8 950.7,868.8 951.2,870.2 951.7,871.3 952.2,872 952.7,873.2 953.2,874 953.7,874.8 954.2,874.3 954.7,874.9 955.2,874.6 955.7,875.4 956.2,875.1 956.7,875.3 957.2,875.3 957.7,875.2 958.2,875 958.7,875.3 959.2,875.5 959.7,875.6 960.2,875.7 960.7,875.1 961.2,875.6 961.7,875.6 962.2,875.1 962.7,875.3 963.2,875.4 963.7,875.4 964.2,875.1 964.7,875.6 965.2,875.2 965.7,875.3 966.2,875 966.7,875.6 967.2,875.5 967.7,875 968.2,875.5 968.7,875.5 969.2,875.5 969.7,875.4 970.2,875.2 970.7,875 971.2,874.9 971.7,875.5 972.2,874.7 972.7,874.6 973.2,874.4 973.7,874.7 974.2,874.3 974.7,873.8 975.2,873.7 975.7,873.5 976.2,873.3 976.7,872.4 977.2,872.4 977.7,871.6 978.2,871.3 978.7,871.7 979.2,871.2 979.7,872 980.2,871.9 980.7,872.7 981.2,873 981.7,872.8 982.2,872.8 982.7,872.7 983.2,872.8 983.7,871.8 984.2,870.7 984.7,869.1 985.2,866.9 985.7,864 986.2,862 987,860.2 987.7,861.7 988.2,863.3 988.7,865.7 989.2,868 989.7,869.9 990.2,870.8 990.7,871.4 991.2,870.9 991.7,871.6 992.2,871.6 992.7,872.1 993.2,872.9 993.7,872.6 994.2,873.7 994.7,873.7 995.2,874.2 995.7,874.2 996.2,874.6 996.7,874.9 997.2,875.1 997.7,875.2 998.2,875 998.7,875.1 999.2,875.3 999.7,875.5 1000.2,875.4 1000.7,875.3 1001.2,875.1 1001.7,875.6 1002.2,875.2 1002.7,875.6 1003.2,874.9 1003.7,875.6 1004.2,875 1004.7,875 1005.2,875.4 1005.7,874.9 1006.2,875.4 1006.7,874.9 1007.2,875.7 1007.7,875.6 1008.2,875.7 1008.7,875.1 1009.2,875.6 1009.7,875.3 1010.2,875.5 1010.7,875 1011.2,875 1011.7,874.8 1012.2,874.3 1012.7,873.6 1013.2,873.5 1013.7,872.3 1014.2,871.5 1014.7,870 1015.2,870 1015.7,869.7 1016.2,870 1016.7,870.4 1017.2,871 1017.7,872.3 1018.2,872.9 1018.7,873.6 1019.2,874.3 1019.7,874.9 1020.2,874.9 1020.7,874.5 1021.2,875.2 1021.7,875.3 1022.2,875.2 1022.7,874.5 1023.2,874.6 1023.7,873.8 1024.2,874.1 1024.7,873.2 1025.2,872.4 1025.7,872.4 1026.2,872.3 1026.7,872.2 1027.2,872.1 1027.7,872.3 1028.2,873.1 1028.7,873.7 1029.2,873.9 1029.7,874.4 1030.2,874.4 1030.7,875.4 1031.2,875.2 1031.7,875.6 1032.2,875.7 1032.7,875.2 1033.2,875.5 1033.7,875.3 1034.2,875.1 1034.7,875.1 1035.2,875.1 1035.7,875.4 1036.2,875.2 1036.7,874.5 1037.2,874.2 1037.7,874.1 1038.2,873.5 1038.7,873.3 1039.2,873.4 1039.7,873.2 1040.2,873.3 1040.7,873.5 1041.2,874.2 1041.7,874.7 1042.2,874.7 1042.7,874.5 1043.2,874.9 1043.7,875.1 1044.2,875.2 1044.7,875.1 1045.2,875.2 1045.7,875.6 1046.2,875.5 1046.7,875.9 1047.2,875.6 1047.7,875.6 1048.2,875.9 1048.7,875.5 1049.2,875.7 1049.7,875.5 1050.2,875.5 1050.7,875.6 1051.2,875.6 1051.7,875.7 1052.2,875.4 1052.7,875.7 1053.2,876 1053.7,876.1 1054.2,875.7 1054.7,875.5 1055.2,875.7 1055.7,875.9 1056.2,875.7 1056.7,875.8 1057.2,875.4 1057.7,875.7 1058.2,875.2 1058.7,875.6 1059.2,875.4 1059.7,875.4 1060.2,875.6 1060.7,875.9 1061.2,875.7 1061.7,875.6 1062.2,875.6 1062.7,876 1063.2,875.5 1063.7,875.8 1064.2,875.7 1064.7,875.6 1065.2,875.3 1065.7,875.2 1066.2,875.6 1066.7,875.6 1067.2,875.3 1067.7,876 1068.2,876 1068.7,875.4 1069.2,876.2 1069.7,875.6 1070.2,875.9 1070.7,875.3 1071.2,875.6 1071.7,876 1072.2,876.2 1072.7,875.4 1073.2,875.6 1073.7,875.8 1074.2,875.4 1074.7,875.8 1075.2,875.6 1075.7,876 1076.2,876.1 1076.7,875.5 1077.2,876 1077.7,875.7 1078.2,876 1078.7,875.6 1079.2,875.5 1079.7,876 1080.2,876 1080.7,876.1 1081.2,875.8 1081.7,876.1 1082.2,875.8 1082.7,875.8 1083.2,875.8 1083.7,875.7 1084.2,875.6 1084.7,875.9 1085.2,875.6 1085.7,875.4 1086.2,876 1086.7,876.1 1087.2,875.7 1087.7,876.1 1088.2,876.1 1088.7,875.7 1089.2,876 1089.7,875.6 1090.2,875.7 1090.7,875.5 1091.2,875.2 1091.7,875.6 1092.2,875.3 1092.7,875.5 1093.2,875.7 1093.7,875.4 1094.2,875.7 1094.7,875.4 1095.2,875.2 1095.7,874.7 1096.2,873.9 1096.7,874.1 1097.2,873.5 1097.7,873.4 1098.2,873.6 1098.7,874 1099.2,874.4 1099.7,874.9 1100.2,874.6 1100.7,875.4 1101.2,874.8 1101.7,875.4 1102.2,875.2 1102.7,875.9 1103.2,875.7 1103.7,875.2 1104.2,875.6 1104.7,875.1 1105.2,875.1 1105.7,874.8 1106.2,875.2 1106.7,874.7 1107.2,873.8 1107.7,873.6 1108.2,873.6 1108.7,873.2 1109.2,873.5 1109.7,873.3 1110.2,873.8 1110.7,874.2 1111.2,875 1111.7,874.6 1112.2,875.1 1112.7,875.1 1113.2,875.6 1113.7,875.5 1114.2,875.7 1114.7,875.7 1115.2,875.5 1115.7,875.3 1116.2,875.1 1116.7,875.2 1117.2,875.5 1117.7,875.6 1118.2,875.9 1118.7,875.6 1119.2,876 1119.7,875.7 1120.2,875.4 1120.7,876.1 1121.2,875.4 1121.7,875.6 1122.2,875.6 1122.7,875.4 1123.2,875.3 1123.7,875.2 1124.2,875.2 1124.7,875.6 1125.2,875 1125.7,875.4 1126.2,874.6 1126.7,874.5 1127.2,873.5 1127.7,873.1 1128.2,872.6 1128.7,873 1129.2,872.1 1129.7,872.2 1130.2,872.5 1130.7,872.8 1131.2,873.9 1131.7,874.1 1132.2,874.3 1132.7,875 1133.2,875.3 1133.7,875.8 1134.2,875.8 1134.7,875.4 1135.2,875.3 1135.7,875.4 1136.2,875.4 1136.7,875.3 1137.2,876 1137.7,876.1 1138.2,876.1 1138.7,876.1 1139.2,875.4 1139.7,875.6 1140.2,875.8 1140.7,876 1141.2,875.9 1141.7,876.1 1142.2,876.2 1142.7,875.7 1143.2,875.6 1143.7,875.6 1144.2,876.2 1144.7,875.8 1145.2,876.3 1145.7,875.5 1146.2,875.8 1146.7,875.6 1147.2,876 1147.7,876 1148.2,875.9 1148.7,876.1 1149.2,875.7 1149.7,875.6 1150.2,875.9 1150.7,876.1 1151.2,875.7 1151.7,875.9 1152.2,876 1152.7,875.6 1153.2,875.9 1153.7,876.2 1154.2,875.8 1154.7,875.8 1155.2,876.1 1155.7,876 1156.2,875.3 1156.7,875.5 1157.2,876 1157.7,875.5 1158.2,876.1 1158.7,875.5 1159.2,875.9 1159.7,876.3 1160.2,876.1 1160.7,875.8 1161.2,876.2 1161.7,875.7 1162.2,875.9 1162.7,875.6 1163.2,875.7 1163.7,875.7 1164.2,876.3 1164.7,876.1 1165.2,875.5 1165.7,875.6 1166.2,875.7 1166.7,875.4 1167.2,875.7 1167.7,875.6 1168.2,875.5 1168.7,875.6 1169.2,876.1 1169.7,876.2 1170.2,875.7 1170.7,875.8 1171.2,875.7 1171.7,875.7 1172.2,875.4 1172.7,875.2 1173.2,875 1173.7,875.3 1174.2,874.8 1174.7,874.7 1175.2,874 1175.7,873 1176.2,872 1176.7,870.5 1177.2,869.9 1177.7,869.3 1178.2,868.5 1178.7,868.9 1179.2,869 1179.7,869.9 1180.2,871.3 1180.7,872.3 1181.2,873.2 1181.7,873.4 1182.2,874 1182.7,875 1183.2,875.4 1183.7,874.9 1184.2,875.7 1184.7,875.5 1185.2,875.2 1185.7,875.4 1186.2,875.6 1186.7,875.7 1187.2,875.5 1187.7,876.3 1188.2,876.2 1188.7,875.7 1189.2,875.7 1189.7,876 1190.2,875.9 1190.7,875.7 1191.2,875.7 1191.7,876.1 1192.2,875.8 1192.7,875.5 1193.2,875.6 1193.7,875.6 1194.2,876 1194.7,875.6 1195.2,876 1195.7,875.7 1196.2,876.1 1196.7,875.9 1197.2,875.7 1197.7,876.1 1198.2,875.8 1198.7,875.6 1199.2,875.6 1199.7,875.9 1200.2,876 1200.7,876 1201.2,875.5 1201.7,876.1 1202.2,875.9 1202.7,876.3 1203.2,875.9 1203.7,876 1204.2,876 1204.7,876 1205.2,875.9 1205.7,875.6 1206.2,876.3 1206.7,875.5 1207.2,876 1207.7,875.7 1208.2,875.8 1208.7,876 1209.2,876.2 1209.7,875.7 1210.2,875.5 1210.7,876.3 1211.2,876.2 1211.7,875.8 1212.2,875.8 1212.7,875.8 1213.2,876.1 1213.7,876.4 1214.2,875.9 1214.7,875.7 1215.2,876.4 1215.7,876.2 1216.2,875.7 1216.7,876 1217.2,876 1217.7,876.2 1218.2,876.3 1218.7,876.2 1219.2,875.8 1219.7,876.2 1220.2,875.8 1220.7,876 1221.2,875.5 1221.7,876 1222.2,875.4 1222.7,875.7 1223.2,875.6 1223.7,875.6 1224.2,876 1224.7,875.6 1225.2,876.4 1225.7,876.3 1226.2,875.7 1226.7,876.3 1227.2,876 1227.7,875.6 1228.2,876.1 1228.7,875.8 1229.2,875.7 1229.7,875.7 1230.2,876.1 1230.7,876.1 1231.2,876 1231.7,875.5 1232.2,875.5 1232.7,876.1 1233.2,876.3 1233.7,875.5 1234.2,875.9 1234.7,875.9 1235.2,875.6 1235.7,876.1 1236.2,876 1236.7,876.2 1237.2,876.1 1237.7,876.4 1238.2,876.2 1238.7,876.4 1239.2,876.2 1239.7,876.2 1240.2,876.5 1240.7,876 1241.2,876.1 1241.7,876 1242.2,876.3 1242.7,876.3 1243.2,876.4 1243.7,876.3 1244.2,876.1 1244.7,875.9 1245.2,876.4 1245.7,876.1 1246.2,876.3 1246.7,875.9 1247.2,875.8 1247.7,876 1248.2,876.3 1248.7,876.3 1249.2,875.7 1249.7,875.8 1250.2,875.8 1250.7,876.3 1251.2,876.1 1251.7,876.2 1252.2,876.2 1252.7,875.8 1253.2,876.1 1253.7,876.2 1254.2,875.9 1254.7,875.8 1255.2,875.7 1255.7,876 1256.2,876 1256.7,875.8 1257.2,876 1257.7,875.2 1258.2,875.5 1258.7,875.8 1259.2,875.7 1259.7,874.9 1260.2,875.2 1260.7,875.2 1261.2,875.1 1261.7,874.8 1262.2,874.6 1262.7,874 1263.2,874 1263.7,874.2 1264.2,874.1 1264.7,873.8 1265.2,873.2 1265.7,872.9 1266.2,872.9 1266.7,872.7 1267.2,873 1267.7,872.6 1268.2,873.3 1268.7,872.7 1269.2,873.5 1269.7,873.4 1270.2,873.2 1270.7,874 1271.2,873.6 1271.7,874.5 1272.2,874.5 1272.7,874.4 1273.2,874.9 1273.7,874.5 1274.2,875 1274.7,874.9 1275.2,874.9 1275.7,875.4 1276.2,875.8 1276.7,875.2 1277.2,875.4 1277.7,875.3 1278.2,875.3 1278.7,875.7 1279.2,875.7 1279.7,875.4 1280.2,875.8 1280.7,875.7 1281.2,876.1 1281.7,876.1 1282.2,875.9 1282.7,875.6 1283.2,875.8 1283.7,875.4 1284.2,875.9 1284.7,875.1 1285.2,875.7 1285.7,875.2 1286.2,875.4 1286.7,874.4 1287.2,874.7 1287.7,873.7 1288.2,873.6 1288.7,872.8 1289.2,872.2 1289.7,872.3 1290.2,871.7 1290.7,872 1291.2,873.2 1291.7,873.5 1292.2,873.9 1292.7,874.2 1293.2,874.7 1293.7,875.6 1294.2,875.4 1294.7,875.3 1295.2,876 1295.7,875.4 1296.2,876.1 1296.7,875.6 1297.2,875.9 1297.7,875.9 1298.2,876.1 1298.7,875.9 1299.2,875.8 1299.7,875.9 1300.2,875.8 1300.7,875.7 1301.2,875.8 1301.7,876 1302.2,876.4 1302.7,875.7 1303.2,876 1303.7,876.2 1304.2,875.8 1304.7,875.7 1305.2,876.2 1305.7,876 1306.2,876.2 1306.7,875.8 1307.2,875.8 1307.7,875.8 1308.2,876.2 1308.7,875.5 1309.2,875.6 1309.7,875.8 1310.2,876 1310.7,875.5 1311.2,875.6 1311.7,875.5 1312.2,875.2 1312.7,875.1 1313.2,875.3 1313.7,874.5 1314.2,874.3 1314.7,873.3 1315.2,872.9 1315.7,871.4 1316.2,870.9 1316.7,869.8 1317.2,869.4 1317.7,869.1 1318.2,869.8 1318.7,870.3 1319.2,871.3 1319.7,872.4 1320.2,872.9 1320.7,873.8 1321.2,873.8 1321.7,874.3 1322.2,875.3 1322.7,875 1323.2,875.8 1323.7,875.9 1324.2,875.9 1324.7,875.9 1325.2,875.9 1325.7,875.4 1326.2,875.5 1326.7,875.6 1327.2,875.5 1327.7,875.3 1328.2,876 1328.7,875.6 1329.2,875.9 1329.7,875.6 1330.2,875.6 1330.7,875.8 1331.2,876 1331.7,876.1 1332.2,875.8 1332.7,876.1 1333.2,875.8 1333.7,875.5 1334.2,875.8 1334.7,875.7 1335.2,875.8 1335.7,875.5 1336.2,875.3 1336.7,875.5 1337.2,875.4 1337.7,874.8 1338.2,874.8 1338.7,874.6 1339.2,874.6 1339.7,874.2 1340.2,873.4 1340.7,873 1341.2,873.1 1341.7,873.6 1342.2,873.2 1342.7,873.7 1343.2,874.6 1343.7,875.1 1344.2,874.7 1344.7,874.8 1345.2,875.3 1345.7,875.1 1346.2,875.3 1346.7,875.3 1347.2,875.4 1347.7,875.9 1348.2,875.8 1348.7,875.6 1349.2,875.9 1349.7,876.3 1350.2,875.7 1350.7,875.5 1351.2,875.7 1351.7,875.5 1352.2,876 1352.7,875.5 1353.2,876.1 1353.7,875.8 1354.2,876 1354.7,876.2 1355.2,875.4 1355.7,875.3 1356.2,875 1356.7,875.1 1357.2,874 1357.7,873.3 1358.2,871.6 1358.7,868.9 1359.2,864.6 1359.7,861.1 1360.5,858.6 1361.2,860.6 1361.7,863.7 1362.2,867.4 1362.7,869.2 1363.2,870 1363.7,869.8 1364.2,868.8 1364.7,867.5 1365.2,867.2 1365.7,868 1366.2,869.5 1366.7,871.4 1367.2,873.3 1367.7,874.2 1368.2,875 1368.7,875.3 1369.2,875.8 1369.7,875.6 1370.2,875.7 1370.7,875.5 1371.2,875.5 1371.7,876.1 1372.2,875.6 1372.7,875.5 1373.2,875.8 1373.7,875.9 1374.2,875.7 1374.7,875.5 1375.2,876.1 1375.7,875.7 1376.2,876.1 1376.7,876.1 1377.2,876.2 1377.7,876.5 1378.2,876.3 1378.7,875.8 1379.2,876.4 1379.7,875.8 1380.2,875.7 1380.7,876.2 1381.2,876 1381.7,875.8 1382.2,875.8 1382.7,876 1383.2,876 1383.7,875.9 1384.2,876.4 1384.7,876.3 1385.2,876.3 1385.7,876.1 1386.2,875.7 1386.7,876.3 1387.2,875.9 1387.7,876.1 1388.2,876.2 1388.7,876.3 1389.2,876 1389.7,875.9 1390.2,876.2 1390.7,876.2 1391.2,875.8 1391.7,876.2 1392.2,876.2 1392.7,876 1393.2,876.5 1393.7,876 1394.2,876.4 1394.7,875.9 1395.2,876.3 1395.7,876.1 1396.2,875.8 1396.7,876.4 1397.2,875.7 1397.7,876.3 1398.2,876.5 1398.7,876.5 1399.2,875.8 1399.7,876.4 1400.2,876 1400.7,875.7 1401.2,875.8 1401.7,876.2 1402.2,876.2 1402.7,876.1 1403.2,875.9 1403.7,876.1 1404.2,875.7 1404.7,876.4 1405.2,876.1 1405.7,876.5 1406.2,875.7 1406.7,875.7 1407.2,876 1407.7,876.2 1408.2,875.9 1408.7,875.7 1409.2,875.7 1409.7,876.3 1410.2,876 1410.7,875.8 1411.2,875.5 1411.7,875.2 1412.2,874.4 1412.7,874.1 1413.2,873.4 1413.7,873.6 1414.2,873.3 1414.7,873.2 1415.2,873.5 1415.7,873.8 1416.2,874.5 1416.7,874.9 1417.2,875.4 1417.7,875.4 1418.2,875.4 1418.7,875.4 1419.2,875.5 1419.7,875.9 1420.2,876 1420.7,876.4 1421.2,875.9 1421.7,876.5 1422.2,875.9 1422.7,876.5 1423.2,875.9 1423.7,876.3 1424.2,875.9 1424.7,876.4 1425.2,876.6 1425.7,876 1426.2,875.9 1426.7,876.1 1427.2,876.4 1427.7,875.9 1428.2,876.5 1428.7,876.2 1429.2,876.2 1429.7,876.5 1430.2,876.1 1430.7,876.3 1431.2,875.7 1431.7,876.5 1432.2,875.8 1432.7,876 1433.2,876.5 1433.7,876.5 1434.2,875.8 1434.7,875.8 1435.2,876.4 1435.7,876 1436.2,876.4 1436.7,876.2 1437.2,876.2 1437.7,876.5 1438.2,876.1 1438.7,876.6 1439.2,876.5 1439.7,875.8 1440.2,875.8 1440.7,875.9 1441.2,876.5 1441.7,876.6 1442.2,876.3 1442.7,875.8 1443.2,876.5 1443.7,876.6 1444.2,876.6 1444.7,876.3 1445.2,876.1 1445.7,876.6 1446.2,875.9 1446.7,876.4 1447.2,875.8 1447.7,875.9 1448.2,876 1448.7,876.3 1449.2,876 1449.7,876.7 1450.2,876.2 1450.7,876.1 1451.2,876.4 1451.7,876.3 1452.2,876.1 1452.7,876.3 1453.2,876 1453.7,876 1454.2,876.4 1454.7,876.3 1455.2,876.3 1455.7,876 1456.2,876.1 1456.7,876.2 1457.2,875.8 1457.7,876.4 1458.2,876.5 1458.7,875.8 1459.2,876.3 1459.7,876 1460.2,876.1 1460.7,876.5 1461.2,875.9 1461.7,876.3 1462.2,875.8 1462.7,875.8 1463.2,875.8 1463.7,876.2 1464.2,876.4 1464.7,876.2" fill="none" stroke="#000" stroke-width="6.2" stroke-linejoin="round" stroke-linecap="round"/>
<polyline points="199.9,521 200.4,521 200.9,521.1 201.4,521 201.9,521.3 202.4,520.7 202.9,521.2 203.4,520.4 203.9,521.5 204.4,521.2 204.9,520.4 205.4,520.5 205.9,520.6 206.4,520.8 206.9,521.2 207.4,521 207.9,521 208.4,520.6 208.9,521.5 209.4,521.3 209.9,520.7 210.4,520.5 210.9,520.9 211.4,520.9 211.9,521.5 212.4,520.7 212.9,521.1 213.4,521.1 213.9,521.2 214.4,520.9 214.9,520.8 215.4,521.4 215.9,520.8 216.4,520.6 216.9,520.8 217.4,521.1 217.9,521.4 218.4,521.3 218.9,521 219.4,520.8 219.9,521.5 220.4,521.6 220.9,521.1 221.4,521.5 221.9,521.8 222.4,521 222.9,521.2 223.4,520.9 223.9,521.4 224.4,521.5 224.9,521.3 225.4,521.5 225.9,522 226.4,521.2 226.9,522 227.4,521.3 227.9,522.2 228.4,522.2 228.9,522 229.4,521.4 229.9,522.3 230.4,522 230.9,522.2 231.4,521.7 231.9,522.1 232.4,521.6 232.9,522.3 233.4,521.7 233.9,521.8 234.4,521.8 234.9,521.6 235.4,521.9 235.9,521.8 236.4,522.6 236.9,522.5 237.4,522.5 237.9,521.8 238.4,522.8 238.9,522.9 239.4,522.5 239.9,522.7 240.4,523 240.9,522.4 241.4,522.9 241.9,522.8 242.4,523.1 242.9,522.9 243.4,523.2 243.9,523.1 244.4,523 244.9,522.8 245.4,523.1 245.9,523.1 246.4,523.5 246.9,523 247.4,523.3 247.9,523.6 248.4,523.4 248.9,523.2 249.4,522.8 249.9,523.2 250.4,523.7 250.9,522.7 251.4,523.4 251.9,522.8 252.4,523.5 252.9,523.8 253.4,523.5 253.9,523.3 254.4,523.9 254.9,523.4 255.4,523.4 255.9,523.5 256.4,524 256.9,524.1 257.4,523.2 257.9,523.3 258.4,523.5 258.9,523.6 259.4,523.9 259.9,523.6 260.4,523.1 260.9,523.2 261.4,523.8 261.9,524 262.4,523.2 262.9,523.1 263.4,523.4 263.9,523.1 264.4,523.6 264.9,523.9 265.4,524.3 265.9,523.5 266.4,523.5 266.9,523.7 267.4,523.4 267.9,523.6 268.4,523.8 268.9,524.1 269.4,524.1 269.9,523.4 270.4,524.2 270.9,523.8 271.4,524.4 271.9,524 272.4,524.3 272.9,524 273.4,523.7 273.9,524.4 274.4,524.3 274.9,524.4 275.4,524.6 275.9,524.4 276.4,524.5 276.9,523.9 277.4,523.9 277.9,524.3 278.4,523.4 278.9,523.5 279.4,523.7 279.9,524.3 280.4,523.5 280.9,524.2 281.4,524.2 281.9,524 282.4,523.6 282.9,524 283.4,524.2 283.9,524 284.4,524 284.9,523.8 285.4,524.4 285.9,524.2 286.4,523.9 286.9,523.5 287.4,523.8 287.9,523.3 288.4,523.9 288.9,524.1 289.4,523.7 289.9,523.2 290.4,523.5 290.9,524 291.4,523.4 291.9,523.2 292.4,523.6 292.9,522.8 293.4,522.9 293.9,522.3 294.4,522 294.9,521.9 295.4,521.7 295.9,521.5 296.4,521.1 296.9,520.3 297.4,519.3 297.9,518.8 298.4,517.9 298.9,516.6 299.4,515.7 299.9,513.9 300.4,511 300.9,502.1 301.4,471.9 301.9,385 302.4,232.5 303.1,80.8 303.9,265.3 304.4,408.6 304.9,480.5 305.4,505 305.9,511.4 306.4,514.5 306.9,515.5 307.4,517.5 307.9,517.7 308.4,519.1 308.9,519.7 309.4,519.5 309.9,519.8 310.4,520.7 310.9,520.7 311.4,520.9 311.9,522.1 312.4,521.4 312.9,522.4 313.4,522.3 313.9,522.1 314.4,522.1 314.9,521.8 315.4,522.8 315.9,522.4 316.4,522.5 316.9,522.2 317.4,522.1 317.9,523.1 318.4,523.3 318.9,522.8 319.4,523 319.9,523.4 320.4,523.5 320.9,523.3 321.4,523 321.9,523.5 322.4,523.3 322.9,522.8 323.4,522.3 323.9,522.6 324.4,522.1 324.9,522.2 325.4,522.3 325.9,521.5 326.4,521.6 326.9,521.4 327.4,521.7 327.9,522 328.4,521.4 328.9,522.4 329.4,522.2 329.9,522 330.4,522 330.9,522.8 331.4,522.3 331.9,522.3 332.4,522.3 332.9,521.5 333.4,522.1 333.9,522.1 334.4,521.6 334.9,521.8 335.4,521.6 335.9,522.4 336.4,522.9 336.9,522.8 337.4,523.3 337.9,523.6 338.4,522.9 338.9,523 339.4,523.8 339.9,524 340.4,523.1 340.9,524.2 341.4,524.1 341.9,523.7 342.4,523.5 342.9,524.3 343.4,523.8 343.9,524.3 344.4,523.6 344.9,524 345.4,523.5 345.9,523.6 346.4,524.1 346.9,523.7 347.4,523.9 347.9,524.1 348.4,524.6 348.9,523.9 349.4,524.5 349.9,524.2 350.4,523.8 350.9,524.2 351.4,524.2 351.9,523.8 352.4,524.6 352.9,524.5 353.4,523.5 353.9,523.8 354.4,523.4 354.9,523.3 355.4,523.7 355.9,523.5 356.4,523 356.9,522.5 357.4,522.8 357.9,521.7 358.4,522.1 358.9,521.7 359.4,521.8 359.9,522.3 360.4,523.3 360.9,523.1 361.4,523.8 361.9,523.4 362.4,524.1 362.9,523.3 363.4,523.9 363.9,523.8 364.4,523.7 364.9,524.3 365.4,523.9 365.9,524.4 366.4,523.7 366.9,524.4 367.4,523.7 367.9,524.3 368.4,524.8 368.9,524.3 369.4,524.2 369.9,524.3 370.4,524.9 370.9,524.3 371.4,524.3 371.9,524.3 372.4,524.4 372.9,524.5 373.4,524.5 373.9,524.7 374.4,524.3 374.9,524.4 375.4,524.5 375.9,524.7 376.4,524.1 376.9,524.9 377.4,524 377.9,525 378.4,524.6 378.9,524.7 379.4,524.2 379.9,524.7 380.4,524.7 380.9,524.2 381.4,524.7 381.9,524.6 382.4,524.8 382.9,524.5 383.4,524.9 383.9,525.1 384.4,525.2 384.9,525 385.4,525.1 385.9,524.8 386.4,524.4 386.9,525.4 387.4,524.4 387.9,524.6 388.4,525.2 388.9,524.4 389.4,524.6 389.9,524.2 390.4,524.4 390.9,524.9 391.4,523.9 391.9,523.9 392.4,524.3 392.9,523.6 393.4,523.3 393.9,523.3 394.4,522.4 394.9,521.6 395.4,521.2 395.9,520.2 396.4,520.7 396.9,520.3 397.4,521.7 397.9,522 398.4,522.9 398.9,524 399.4,523.6 399.9,524.1 400.4,524.6 400.9,524.6 401.4,524.1 401.9,524.2 402.4,524.6 402.9,525.2 403.4,524.7 403.9,524.9 404.4,524.9 404.9,525 405.4,524.4 405.9,524.3 406.4,524.7 406.9,524.9 407.4,524.7 407.9,524.9 408.4,524.6 408.9,524.8 409.4,525.1 409.9,525.4 410.4,524.8 410.9,524.7 411.4,525.2 411.9,525.1 412.4,524.8 412.9,525.4 413.4,525.1 413.9,524.8 414.4,524.7 414.9,524.9 415.4,525.5 415.9,524.7 416.4,524.8 416.9,525.1 417.4,524.8 417.9,525.2 418.4,524.6 418.9,524.8 419.4,525.2 419.9,525 420.4,524.8 420.9,524.7 421.4,525.4 421.9,525 422.4,525.3 422.9,524.8 423.4,524.7 423.9,524.6 424.4,525.1 424.9,525.4 425.4,525.6 425.9,525 426.4,524.7 426.9,525.4 427.4,525.6 427.9,525.5 428.4,525.1 428.9,525.4 429.4,525 429.9,525.5 430.4,525.4 430.9,525.5 431.4,525.3 431.9,525.3 432.4,525.5 432.9,525.3 433.4,525.7 433.9,525.8 434.4,525 434.9,525 435.4,525.5 435.9,525.8 436.4,525.2 436.9,525.7 437.4,525.6 437.9,525.3 438.4,525 438.9,525.9 439.4,525.5 439.9,525.7 440.4,525.8 440.9,525.4 441.4,525 441.9,524.9 442.4,525 442.9,525.9 443.4,525.3 443.9,525.8 444.4,525.6 444.9,525 445.4,525.5 445.9,525.3 446.4,525.1 446.9,525.2 447.4,525.3 447.9,525 448.4,525.2 448.9,525.8 449.4,525.5 449.9,525.9 450.4,526 450.9,526.2 451.4,526.1 451.9,525.6 452.4,526.2 452.9,525.7 453.4,526.1 453.9,525.2 454.4,526.1 454.9,525.8 455.4,525.5 455.9,525.3 456.4,525.6 456.9,525.6 457.4,525.8 457.9,525.3 458.4,525.5 458.9,525.1 459.4,526.1 459.9,526.1 460.4,526 460.9,525.9 461.4,526.1 461.9,525.9 462.4,525.5 462.9,525 463.4,525.3 463.9,525 464.4,526 464.9,525.4 465.4,525.1 465.9,526 466.4,525.5 466.9,526.1 467.4,525.3 467.9,526 468.4,525.3 468.9,525.5 469.4,525.3 469.9,526.3 470.4,525.8 470.9,526 471.4,525 471.9,525.3 472.4,526 472.9,525.2 473.4,526 473.9,525 474.4,525.2 474.9,525.1 475.4,525 475.9,525.5 476.4,525.2 476.9,525.1 477.4,524.5 477.9,524.7 478.4,524 478.9,523.4 479.4,521.3 479.9,518.2 480.4,515 480.9,511.2 481.4,506 481.9,502.4 482.3,501.7 482.9,504.2 483.4,507.4 483.9,512.7 484.4,516.8 484.9,518.8 485.4,521 485.9,521.7 486.4,521.5 486.9,521.4 487.4,520.5 487.9,519.9 488.4,520.2 488.9,521.2 489.4,522.8 489.9,523.8 490.4,524.2 490.9,524.8 491.4,524.5 491.9,525.5 492.4,525.8 492.9,525.1 493.4,525.4 493.9,525.4 494.4,525.8 494.9,525.8 495.4,525.5 495.9,525.2 496.4,525.1 496.9,524.9 497.4,525 497.9,524.7 498.4,524.4 498.9,523 499.4,522.7 499.9,522 500.4,520.8 500.9,520 501.4,519.9 501.9,521.2 502.4,521.4 502.9,522.9 503.4,523.1 503.9,523.8 504.4,524.6 504.9,524.7 505.4,525.9 505.9,525.9 506.4,525.4 506.9,525.5 507.4,526.3 507.9,525.7 508.4,526.1 508.9,525.8 509.4,525.5 509.9,526.2 510.4,526.2 510.9,526.2 511.4,526.6 511.9,526.5 512.4,526 512.9,526.2 513.4,525.7 513.9,526 514.4,526 514.9,526.3 515.4,525.9 515.9,525.8 516.4,526.1 516.9,525.7 517.4,525.9 517.9,526.7 518.4,526 518.9,525.9 519.4,526.2 519.9,526.6 520.4,525.9 520.9,526.3 521.4,526.8 521.9,526.6 522.4,525.8 522.9,526 523.4,525.9 523.9,525.8 524.4,526.2 524.9,525.9 525.4,526.1 525.9,526.6 526.4,526 526.9,526.6 527.4,526.2 527.9,526.1 528.4,526.2 528.9,525.8 529.4,526.4 529.9,526.6 530.4,526.2 530.9,526.9 531.4,526.6 531.9,527 532.4,526.2 532.9,526.1 533.4,526.4 533.9,526.3 534.4,526.4 534.9,526 535.4,526.4 535.9,526.6 536.4,525.9 536.9,526.3 537.4,526.4 537.9,526.4 538.4,525.9 538.9,526.3 539.4,526.3 539.9,526.3 540.4,526.3 540.9,526.1 541.4,526.1 541.9,526.5 542.4,526.6 542.9,526.3 543.4,526.9 543.9,526.5 544.4,526.8 544.9,526.7 545.4,526.5 545.9,526.9 546.4,526.5 546.9,526.2 547.4,526.6 547.9,526.5 548.4,526.3 548.9,526.4 549.4,526.4 549.9,526.7 550.4,526.3 550.9,526.8 551.4,526.8 551.9,527 552.4,526.6 552.9,527.2 553.4,526.9 553.9,527 554.4,527.2 554.9,526.9 555.4,526.8 555.9,526.5 556.4,526.8 556.9,526.5 557.4,526.4 557.9,526.3 558.4,526.2 558.9,526.8 559.4,526.5 559.9,526.6 560.4,527 560.9,526.2 561.4,526.7 561.9,526.6 562.4,526.5 562.9,526.6 563.4,527.1 563.9,527.2 564.4,526.8 564.9,527.1 565.4,527.3 565.9,526.8 566.4,526.6 566.9,526.3 567.4,527.4 567.9,526.6 568.4,526.9 568.9,526.9 569.4,527.6 569.9,527.2 570.4,526.4 570.9,527.1 571.4,526.6 571.9,526.4 572.4,526.9 572.9,526.7 573.4,527.4 573.9,526.8 574.4,527.3 574.9,526.9 575.4,527.1 575.9,526.7 576.4,526.6 576.9,526.8 577.4,526.7 577.9,526.5 578.4,526.7 578.9,526.8 579.4,527 579.9,526.7 580.4,526.4 580.9,526.8 581.4,526.6 581.9,527.5 582.4,527.3 582.9,526.8 583.4,526.8 583.9,526.9 584.4,527 584.9,527.3 585.4,527.5 585.9,527.3 586.4,526.6 586.9,526.5 587.4,526.3 587.9,527.1 588.4,526.8 588.9,526.3 589.4,526.2 589.9,527.1 590.4,527.1 590.9,527.1 591.4,527.1 591.9,526.4 592.4,526.8 592.9,526.6 593.4,526.4 593.9,526.5 594.4,526.5 594.9,527 595.4,526.6 595.9,526 596.4,525.9 596.9,525.5 597.4,524.9 597.9,524.5 598.4,522.8 598.9,520.5 599.4,517.5 599.9,513.3 600.4,508 600.9,503.6 601.4,499.6 601.8,498.4 602.4,501 602.9,505.5 603.4,510 603.9,514.7 604.4,519 604.9,521.5 605.4,523.3 605.9,524.3 606.4,525.3 606.9,525.6 607.4,526.6 607.9,526.5 608.4,526.6 608.9,526.9 609.4,526.6 609.9,526.7 610.4,526.5 610.9,526.9 611.4,526.4 611.9,526.9 612.4,527.1 612.9,526.7 613.4,527.6 613.9,526.9 614.4,527.7 614.9,527.5 615.4,527.6 615.9,526.7 616.4,527.2 616.9,527.5 617.4,527.2 617.9,526.7 618.4,527.4 618.9,527.4 619.4,527.1 619.9,526.7 620.4,527 620.9,526.7 621.4,526.6 621.9,526.7 622.4,526.5 622.9,526.3 623.4,524.9 623.9,523.8 624.4,522.2 624.9,520 625.4,515.3 625.9,510.9 626.4,505.4 626.9,500.7 627.4,498.4 627.9,500.5 628.4,505 628.9,509.8 629.4,515.2 629.9,519.2 630.4,522.5 630.9,523.5 631.4,524.9 631.9,525.1 632.4,526 632.9,525.7 633.4,526.5 633.9,526.2 634.4,526.2 634.9,526.4 635.4,526.5 635.9,525.9 636.4,526.1 636.9,525.2 637.4,523.8 637.9,522.2 638.4,519.3 638.9,515.1 639.4,510.6 639.9,506.5 640.6,503.1 641.4,507 641.9,512.2 642.4,516.4 642.9,519.7 643.4,522.2 643.9,524.2 644.4,525.4 644.9,526.6 645.4,526.7 645.9,527.2 646.4,526.7 646.9,527.2 647.4,526.9 647.9,527.8 648.4,527.4 648.9,527.1 649.4,527.1 649.9,527.5 650.4,528.1 650.9,527.6 651.4,527.9 651.9,528.3 652.4,527.7 652.9,527.9 653.4,528.2 653.9,527.5 654.4,527.5 654.9,527.2 655.4,527.8 655.9,527.9 656.4,528 656.9,528 657.4,527.6 657.9,528 658.4,528.2 658.9,527.5 659.4,527.7 659.9,528 660.4,527.7 660.9,527.7 661.4,527.1 661.9,527.4 662.4,527.4 662.9,527.2 663.4,527.6 663.9,527.7 664.4,527.4 664.9,527.5 665.4,528 665.9,528.1 666.4,528.6 666.9,527.5 667.4,528.3 667.9,528.3 668.4,528 668.9,527.5 669.4,528.4 669.9,528.3 670.4,527.8 670.9,527.5 671.4,528.2 671.9,527.8 672.4,528.3 672.9,528 673.4,528.4 673.9,527.7 674.4,527.8 674.9,527.9 675.4,527.9 675.9,528 676.4,528.3 676.9,527.9 677.4,527.8 677.9,527.5 678.4,527.7 678.9,527.6 679.4,528 679.9,527.8 680.4,527.5 680.9,528.6 681.4,528.2 681.9,527.8 682.4,528.2 682.9,528.1 683.4,528.4 683.9,527.6 684.4,527.7 684.9,528 685.4,528 685.9,528.3 686.4,528.6 686.9,527.9 687.4,528.4 687.9,528.3 688.4,528.4 688.9,528.1 689.4,528.5 689.9,527.5 690.4,528.4 690.9,527.6 691.4,528.1 691.9,528.8 692.4,527.9 692.9,528.3 693.4,528.3 693.9,528.3 694.4,528.1 694.9,527.8 695.4,528.6 695.9,528.3 696.4,527.8 696.9,528.7 697.4,528.6 697.9,528 698.4,528.5 698.9,528.5 699.4,527.6 699.9,528 700.4,528.6 700.9,528.4 701.4,528.4 701.9,528.3 702.4,528.1 702.9,527.8 703.4,527.8 703.9,528 704.4,528.1 704.9,527.9 705.4,528.1 705.9,528 706.4,528 706.9,528.5 707.4,528 707.9,528.5 708.4,528.4 708.9,528.3 709.4,528.7 709.9,528.2 710.4,527.9 710.9,527.8 711.4,528.6 711.9,528.4 712.4,528.2 712.9,527.8 713.4,528.5 713.9,527.9 714.4,528 714.9,528.3 715.4,527.9 715.9,528.4 716.4,528.9 716.9,528.3 717.4,528.7 717.9,528.8 718.4,528.2 718.9,527.9 719.4,528.1 719.9,528.1 720.4,528.2 720.9,528 721.4,528.2 721.9,527.9 722.4,528.7 722.9,528.4 723.4,528.4 723.9,528.9 724.4,528.2 724.9,528.8 725.4,528.6 725.9,528.2 726.4,528.5 726.9,528.3 727.4,528.2 727.9,528.8 728.4,528.7 728.9,527.8 729.4,527.9 729.9,527.9 730.4,528.2 730.9,528 731.4,528 731.9,528.4 732.4,528.7 732.9,528.8 733.4,528 733.9,528.1 734.4,528.3 734.9,528.1 735.4,528.4 735.9,528 736.4,528.5 736.9,528.6 737.4,528.2 737.9,528.6 738.4,529 738.9,529 739.4,529 739.9,528.4 740.4,528.6 740.9,528.6 741.4,528 741.9,529 742.4,528 742.9,528.9 743.4,527.8 743.9,528.6 744.4,528.5 744.9,528.8 745.4,527.8 745.9,528.9 746.4,528.3 746.9,528.2 747.4,528.6 747.9,528.3 748.4,528.1 748.9,528.2 749.4,528.7 749.9,527.8 750.4,528.1 750.9,528 751.4,528.3 751.9,528.2 752.4,528.5 752.9,527.8 753.4,527.9 753.9,528.3 754.4,528.2 754.9,528.4 755.4,527.8 755.9,528.6 756.4,527.9 756.9,528.7 757.4,527.8 757.9,528.5 758.4,528.5 758.9,528 759.4,528.5 759.9,528.6 760.4,528.1 760.9,527.6 761.4,527.8 761.9,528.6 762.4,528.7 762.9,528.7 763.4,528.4 763.9,527.9 764.4,528.3 764.9,528.5 765.4,528.2 765.9,527.8 766.4,528.7 766.9,527.7 767.4,527.6 767.9,527.7 768.4,528 768.9,528 769.4,528 769.9,527.5 770.4,527.3 770.9,527.9 771.4,527.4 771.9,526.8 772.4,526.2 772.9,526.2 773.4,524.8 773.9,523.7 774.4,523.2 774.9,521.5 775.4,521.8 775.9,521.9 776.4,523.3 776.9,523.4 777.4,525.3 777.9,526 778.4,526.2 778.9,526.7 779.4,526.9 779.9,527.3 780.4,527.7 780.9,527.5 781.4,527.8 781.9,527.8 782.4,527.6 782.9,527.5 783.4,528.3 783.9,527.5 784.4,528.4 784.9,527.3 785.4,527.3 785.9,527.1 786.4,526.9 786.9,526.8 787.4,525.8 787.9,524.9 788.4,522.5 788.9,520.3 789.4,517.7 789.9,515.1 790.4,513.2 790.8,512.9 791.4,513.7 791.9,515.7 792.4,518.5 792.9,521.7 793.4,523.9 793.9,524.9 794.4,526.6 794.9,526.8 795.4,527.6 795.9,527.3 796.4,527.3 796.9,528.1 797.4,528.4 797.9,528.4 798.4,528.5 798.9,527.9 799.4,528.1 799.9,528.7 800.4,528.2 800.9,528.5 801.4,528.7 801.9,528.5 802.4,528.4 802.9,528.7 803.4,528.1 803.9,528.5 804.4,528.8 804.9,527.9 805.4,527.9 805.9,528.7 806.4,528.9 806.9,529 807.4,528.5 807.9,528.3 808.4,528 808.9,528.1 809.4,528.8 809.9,528.5 810.4,528.2 810.9,528.5 811.4,528.9 811.9,528.9 812.4,528.2 812.9,528.7 813.4,528.9 813.9,528.3 814.4,528.5 814.9,528.9 815.4,528.4 815.9,528.2 816.4,528.5 816.9,528.2 817.4,527.8 817.9,528.3 818.4,528.5 818.9,528.3 819.4,528.3 819.9,528 820.4,528.6 820.9,528.5 821.4,529 821.9,528.3 822.4,529.1 822.9,528.2 823.4,528.1 823.9,528.5 824.4,528.7 824.9,528.3 825.4,528.7 825.9,528.5 826.4,528.1 826.9,529 827.4,528.1 827.9,528.2 828.4,528.4 828.9,528.3 829.4,528.7 829.9,528.5 830.4,528.5 830.9,528.5 831.4,527.7 831.9,527.6 832.4,527.9 832.9,527.5 833.4,528.2 833.9,527.6 834.4,527.7 834.9,526.4 835.4,526.5 835.9,525.6 836.4,525.8 836.9,525.6 837.4,525.6 837.9,526 838.4,526.3 838.9,527 839.4,527.7 839.9,527.7 840.4,527.9 840.9,528.6 841.4,528.6 841.9,528.5 842.4,528.2 842.9,529 843.4,528.7 843.9,528.7 844.4,528.7 844.9,529 845.4,528.7 845.9,528.3 846.4,528.2 846.9,528.1 847.4,529 847.9,528.8 848.4,528.4 848.9,528.8 849.4,528.5 849.9,528.7 850.4,528.6 850.9,528.7 851.4,528.5 851.9,528.2 852.4,528.4 852.9,529.1 853.4,528.7 853.9,528.6 854.4,528.7 854.9,528.8 855.4,528.9 855.9,528.1 856.4,528.5 856.9,529.1 857.4,529.1 857.9,528.8 858.4,528.2 858.9,528.7 859.4,528.4 859.9,528.4 860.4,528 860.9,528.7 861.4,528.2 861.9,529 862.4,528.1 862.9,528 863.4,528.7 863.9,528.4 864.4,528 864.9,528.9 865.4,528.7 865.9,528.4 866.4,528.3 866.9,528.4 867.4,528.9 867.9,528.7 868.4,528.4 868.9,528.7 869.4,529.1 869.9,528.4 870.4,528.9 870.9,528.8 871.4,528.4 871.9,528.3 872.4,529 872.9,528.4 873.4,528.8 873.9,528.7 874.4,528.8 874.9,528.5 875.4,527.8 875.9,528.9 876.4,528.8 876.9,527.9 877.4,528.5 877.9,528 878.4,528.5 878.9,528.3 879.4,528.3 879.9,528.1 880.4,528 880.9,527.7 881.4,528.4 881.9,527.8 882.4,528.3 882.9,528.2 883.4,528.7 883.9,528.7 884.4,528.5 884.9,528.4 885.4,528.5 885.9,528.6 886.4,529 886.9,528 887.4,528 887.9,528.7 888.4,528.2 888.9,529 889.4,528.8 889.9,528.6 890.4,528.7 890.9,529.3 891.4,529.1 891.9,528.4 892.4,528.8 892.9,528.5 893.4,528.8 893.9,528.4 894.4,528.4 894.9,528.7 895.4,528.4 895.9,529.3 896.4,529.1 896.9,528.9 897.4,528.7 897.9,529 898.4,528.6 898.9,528.5 899.4,528.8 899.9,528.3 900.4,528.3 900.9,528.8 901.4,529 901.9,528.1 902.4,528.3 902.9,528.9 903.4,528.2 903.9,528.9 904.4,528.2 904.9,528.1 905.4,528.9 905.9,528.2 906.4,528.2 906.9,528.7 907.4,528.1 907.9,528.5 908.4,528.4 908.9,528.4 909.4,529.2 909.9,528.4 910.4,528.9 910.9,528.3 911.4,528.3 911.9,528.8 912.4,528.9 912.9,528.6 913.4,528.7 913.9,528.6 914.4,528.6 914.9,528 915.4,528.4 915.9,528.2 916.4,529 916.9,528.5 917.4,528.8 917.9,528.2 918.4,528.7 918.9,528.7 919.4,527.9 919.9,528.6 920.4,528.5 920.9,528.5 921.4,528.6 921.9,527.7 922.4,527.5 922.9,527.9 923.4,527.4 923.9,528 924.4,527.2 924.9,527.1 925.4,526.3 925.9,526 926.4,524.2 926.9,522.8 927.4,521.1 927.9,519.1 928.4,517.4 928.7,517.4 929.4,518.1 929.9,520.3 930.4,521.7 930.9,522.5 931.4,523.9 931.9,524.3 932.4,524 932.9,524.7 933.4,525.9 933.9,526.8 934.4,526.8 934.9,527.8 935.4,528.3 935.9,528.4 936.4,528.3 936.9,528.8 937.4,528.8 937.9,528.9 938.4,529.1 938.9,528.4 939.4,528.1 939.9,528.1 940.4,528.3 940.9,528.6 941.4,528.4 941.9,529 942.4,528.3 942.9,528.1 943.4,528.1 943.9,528.3 944.4,527.7 944.9,527.8 945.4,528.3 945.9,527.1 946.4,526.8 946.9,526.8 947.4,526.3 947.9,524.7 948.4,523.8 948.9,523.4 949.4,522.8 949.9,524 950.4,524.2 950.9,524.4 951.4,525.4 951.9,526.7 952.4,527.7 952.9,527.2 953.4,527.8 953.9,528.3 954.4,528.6 954.9,527.9 955.4,527.9 955.9,527.9 956.4,527.9 956.9,528 957.4,528.8 957.9,528 958.4,528.8 958.9,528.7 959.4,529 959.9,529.2 960.4,528.9 960.9,528.6 961.4,528.5 961.9,528.6 962.4,528.6 962.9,528.1 963.4,528.7 963.9,528.9 964.4,528.5 964.9,528.9 965.4,529 965.9,528.5 966.4,528.4 966.9,528.2 967.4,528.2 967.9,528.3 968.4,528.5 968.9,528.9 969.4,528.4 969.9,529 970.4,528 970.9,528.5 971.4,528.1 971.9,528.8 972.4,528.5 972.9,528.2 973.4,527.7 973.9,527.9 974.4,528.2 974.9,527.1 975.4,527.4 975.9,527.6 976.4,526.5 976.9,526.8 977.4,527.1 977.9,526.7 978.4,526.9 978.9,526.8 979.4,527.1 979.9,527.4 980.4,527.2 980.9,527.4 981.4,528 981.9,527.7 982.4,527.2 982.9,527.7 983.4,527 983.9,526.8 984.4,525.4 984.9,524.6 985.4,524.1 985.9,523.3 986.4,522.8 986.9,523.6 987.4,524.4 987.9,525.2 988.4,526.2 988.9,527.4 989.4,527.7 989.9,527.8 990.4,528.3 990.9,528.1 991.4,528.8 991.9,528.9 992.4,528.7 992.9,528.4 993.4,528.8 993.9,528.4 994.4,528.2 994.9,528.7 995.4,528.2 995.9,528.9 996.4,529 996.9,528.5 997.4,528.3 997.9,528.3 998.4,528.1 998.9,529 999.4,528.3 999.9,528.1 1000.4,528.7 1000.9,528.5 1001.4,528.4 1001.9,528.4 1002.4,529 1002.9,529 1003.4,528.7 1003.9,528.9 1004.4,528.5 1004.9,528 1005.4,528.1 1005.9,528.6 1006.4,529.1 1006.9,528.8 1007.4,529 1007.9,528.3 1008.4,528.6 1008.9,528.9 1009.4,528.7 1009.9,529 1010.4,528.1 1010.9,528 1011.4,528.1 1011.9,528 1012.4,527.6 1012.9,527.3 1013.4,527.5 1013.9,526.7 1014.4,526.6 1014.9,525.5 1015.4,525.8 1015.9,525.8 1016.4,525.8 1016.9,526.3 1017.4,526.6 1017.9,527 1018.4,527.8 1018.9,528.4 1019.4,528 1019.9,528.6 1020.4,528.1 1020.9,528.9 1021.4,528.3 1021.9,528.2 1022.4,528.9 1022.9,528.5 1023.4,528.2 1023.9,528.3 1024.4,528.3 1024.9,527.7 1025.4,527.2 1025.9,527.2 1026.4,526.4 1026.9,525.8 1027.4,525.7 1027.9,525.2 1028.4,525.7 1028.9,526.5 1029.4,526.3 1029.9,526.7 1030.4,527.3 1030.9,527.5 1031.4,527.5 1031.9,528.3 1032.4,528.4 1032.9,527.9 1033.4,528.1 1033.9,528.7 1034.4,528.4 1034.9,528.4 1035.4,528.2 1035.9,528.9 1036.4,528.9 1036.9,528 1037.4,528 1037.9,527.7 1038.4,527.8 1038.9,527.9 1039.4,527.9 1039.9,527.5 1040.4,527.2 1040.9,527.4 1041.4,527.9 1041.9,527.6 1042.4,528.5 1042.9,528.1 1043.4,527.9 1043.9,528.6 1044.4,528.7 1044.9,528.1 1045.4,528.5 1045.9,528.6 1046.4,528.2 1046.9,528.5 1047.4,528.1 1047.9,528.1 1048.4,528.6 1048.9,528.8 1049.4,528.2 1049.9,528.8 1050.4,528.6 1050.9,528.8 1051.4,529.2 1051.9,529.2 1052.4,528.9 1052.9,529.1 1053.4,529.3 1053.9,528.5 1054.4,529.2 1054.9,529.5 1055.4,528.9 1055.9,529.4 1056.4,528.9 1056.9,529.1 1057.4,529.1 1057.9,529.2 1058.4,528.4 1058.9,529.2 1059.4,528.6 1059.9,529 1060.4,528.3 1060.9,528.9 1061.4,528.8 1061.9,528.4 1062.4,529.4 1062.9,528.8 1063.4,529 1063.9,528.5 1064.4,528.7 1064.9,528.8 1065.4,529.3 1065.9,529.3 1066.4,528.6 1066.9,529 1067.4,528.7 1067.9,528.8 1068.4,528.4 1068.9,529.1 1069.4,528.4 1069.9,528.6 1070.4,529.3 1070.9,528.4 1071.4,529.5 1071.9,529 1072.4,529.3 1072.9,528.8 1073.4,529.2 1073.9,529.1 1074.4,529.4 1074.9,528.5 1075.4,529.4 1075.9,529.4 1076.4,529.4 1076.9,528.6 1077.4,529.4 1077.9,528.6 1078.4,529.3 1078.9,529.4 1079.4,529 1079.9,529.3 1080.4,528.9 1080.9,528.6 1081.4,529.4 1081.9,529.1 1082.4,529 1082.9,529.1 1083.4,528.4 1083.9,528.6 1084.4,528.5 1084.9,529 1085.4,529 1085.9,529.1 1086.4,528.8 1086.9,528.3 1087.4,527.7 1087.9,527.5 1088.4,528.1 1088.9,527.5 1089.4,527.5 1089.9,527.3 1090.4,526 1090.9,526.8 1091.4,527 1091.9,526.6 1092.4,527.6 1092.9,528 1093.4,528.5 1093.9,528.5 1094.4,528.6 1094.9,528.5 1095.4,529.3 1095.9,528.4 1096.4,528.2 1096.9,528.4 1097.4,528.4 1097.9,528.4 1098.4,528.3 1098.9,527.6 1099.4,526.8 1099.9,527.7 1100.4,527.3 1100.9,527.2 1101.4,527.2 1101.9,527.6 1102.4,528.4 1102.9,528.4 1103.4,528.8 1103.9,528.1 1104.4,529 1104.9,529 1105.4,528.7 1105.9,528.7 1106.4,529 1106.9,528 1107.4,528.1 1107.9,528.1 1108.4,527.3 1108.9,527.4 1109.4,527.3 1109.9,527.6 1110.4,527.7 1110.9,527.7 1111.4,527.6 1111.9,527.2 1112.4,527.6 1112.9,528.3 1113.4,528.7 1113.9,528.8 1114.4,528.6 1114.9,528.1 1115.4,528.2 1115.9,529.2 1116.4,528.4 1116.9,529 1117.4,529.1 1117.9,528.7 1118.4,528.6 1118.9,529.2 1119.4,529 1119.9,528.3 1120.4,529.1 1120.9,529.2 1121.4,528.1 1121.9,528 1122.4,528.7 1122.9,528.4 1123.4,528.2 1123.9,527.8 1124.4,528.1 1124.9,528.6 1125.4,528.1 1125.9,526.9 1126.4,526.7 1126.9,524.9 1127.4,523.4 1127.9,521.8 1128.4,518.6 1128.9,517 1129.5,515.7 1129.9,515.2 1130.4,518 1130.9,519.6 1131.4,522.2 1131.9,522.6 1132.4,523.1 1132.9,523.2 1133.4,521.8 1133.9,520.8 1134.4,521.1 1134.9,521.5 1135.4,522.2 1135.9,523.3 1136.4,525.4 1136.9,527 1137.4,527.1 1137.9,527.8 1138.4,528.2 1138.9,528.5 1139.4,527.9 1139.9,528.9 1140.4,529 1140.9,529.1 1141.4,528.8 1141.9,528.4 1142.4,528.2 1142.9,528.9 1143.4,528.6 1143.9,528.8 1144.4,528.2 1144.9,528.8 1145.4,529.1 1145.9,528.5 1146.4,528.7 1146.9,529 1147.4,529 1147.9,529.2 1148.4,529.2 1148.9,528.6 1149.4,528.4 1149.9,528.9 1150.4,528.8 1150.9,529.4 1151.4,529.4 1151.9,529.6 1152.4,529.2 1152.9,529.2 1153.4,529.1 1153.9,529.1 1154.4,528.9 1154.9,528.8 1155.4,529.2 1155.9,528.9 1156.4,528.5 1156.9,529.1 1157.4,528.6 1157.9,528.5 1158.4,528.5 1158.9,528.5 1159.4,529.1 1159.9,529.1 1160.4,528.7 1160.9,529.1 1161.4,529.2 1161.9,528.6 1162.4,529.3 1162.9,529.1 1163.4,528.5 1163.9,528.9 1164.4,528.7 1164.9,528.5 1165.4,529.2 1165.9,528.6 1166.4,529 1166.9,529 1167.4,529.2 1167.9,529 1168.4,529.1 1168.9,529.2 1169.4,529.2 1169.9,529.3 1170.4,528.5 1170.9,528.6 1171.4,528.2 1171.9,528.4 1172.4,528.9 1172.9,528.7 1173.4,528.2 1173.9,528.6 1174.4,528.7 1174.9,528.4 1175.4,527.8 1175.9,527.2 1176.4,526.6 1176.9,526.9 1177.4,525.8 1177.9,525.4 1178.4,525.5 1178.9,524.8 1179.4,524.6 1179.9,524.7 1180.4,524.5 1180.9,524.9 1181.4,526 1181.9,526 1182.4,526.3 1182.9,527.1 1183.4,526.8 1183.9,527.1 1184.4,527.3 1184.9,527.6 1185.4,528.3 1185.9,528.4 1186.4,528.3 1186.9,528.8 1187.4,528.9 1187.9,529.2 1188.4,528.8 1188.9,528.6 1189.4,528.8 1189.9,529.2 1190.4,529.4 1190.9,529 1191.4,529.2 1191.9,528.6 1192.4,529.1 1192.9,529.1 1193.4,529 1193.9,529.2 1194.4,529.2 1194.9,529.2 1195.4,529.2 1195.9,529 1196.4,529.1 1196.9,529 1197.4,528.6 1197.9,528.7 1198.4,528.6 1198.9,529.5 1199.4,529.1 1199.9,529 1200.4,528.4 1200.9,528.2 1201.4,527.8 1201.9,528.1 1202.4,527.5 1202.9,527.4 1203.4,527.6 1203.9,528.1 1204.4,527.6 1204.9,528.5 1205.4,528.4 1205.9,528.2 1206.4,528.2 1206.9,528.6 1207.4,528.5 1207.9,528.8 1208.4,529.3 1208.9,529.5 1209.4,528.8 1209.9,529.2 1210.4,529.1 1210.9,529.3 1211.4,529.3 1211.9,528.8 1212.4,529 1212.9,529 1213.4,529.3 1213.9,529.5 1214.4,528.4 1214.9,528.7 1215.4,528.6 1215.9,529.3 1216.4,528.5 1216.9,528.3 1217.4,528.8 1217.9,529.1 1218.4,529.1 1218.9,529.3 1219.4,528.9 1219.9,528.6 1220.4,529.1 1220.9,529.1 1221.4,528.9 1221.9,528.7 1222.4,528.7 1222.9,529.3 1223.4,529.2 1223.9,529.3 1224.4,529 1224.9,529.2 1225.4,528.9 1225.9,529.3 1226.4,528.6 1226.9,529 1227.4,528.7 1227.9,529 1228.4,529.2 1228.9,529.2 1229.4,529.1 1229.9,529.5 1230.4,528.9 1230.9,528.8 1231.4,529.1 1231.9,529.1 1232.4,529.5 1232.9,529.4 1233.4,529.1 1233.9,529.2 1234.4,528.7 1234.9,529.6 1235.4,529 1235.9,529 1236.4,529.5 1236.9,529 1237.4,528.7 1237.9,528.8 1238.4,528.8 1238.9,529 1239.4,529.1 1239.9,529.3 1240.4,529.1 1240.9,528.8 1241.4,529.1 1241.9,528.8 1242.4,528.8 1242.9,528.7 1243.4,529.5 1243.9,529 1244.4,529.3 1244.9,528.6 1245.4,528.7 1245.9,529.4 1246.4,528.8 1246.9,529.5 1247.4,529.2 1247.9,528.6 1248.4,529 1248.9,529 1249.4,529.1 1249.9,529 1250.4,529.2 1250.9,529.7 1251.4,529.5 1251.9,529.3 1252.4,528.7 1252.9,528.9 1253.4,529.2 1253.9,529.1 1254.4,528.9 1254.9,529.6 1255.4,528.9 1255.9,529 1256.4,529.3 1256.9,529.4 1257.4,529.6 1257.9,528.9 1258.4,528.8 1258.9,528.9 1259.4,528.9 1259.9,528.2 1260.4,528.4 1260.9,527.8 1261.4,528.4 1261.9,527.1 1262.4,526.9 1262.9,525.3 1263.4,524.9 1263.9,524.2 1264.4,523 1264.9,522.5 1265.4,523.1 1265.9,523.4 1266.4,523.7 1266.9,524.9 1267.4,525.9 1267.9,526.9 1268.4,527 1268.9,527 1269.4,527.5 1269.9,527.9 1270.4,526.8 1270.9,527.2 1271.4,527.3 1271.9,527.3 1272.4,526.8 1272.9,527.2 1273.4,527.6 1273.9,527.4 1274.4,527.4 1274.9,528.5 1275.4,528.9 1275.9,528.8 1276.4,529.1 1276.9,529.1 1277.4,529.3 1277.9,528.5 1278.4,528.5 1278.9,528.8 1279.4,528.8 1279.9,528.8 1280.4,529.1 1280.9,529.1 1281.4,529.4 1281.9,529.2 1282.4,529.5 1282.9,529 1283.4,528.6 1283.9,528.9 1284.4,528.5 1284.9,528.7 1285.4,529.1 1285.9,529.3 1286.4,529.2 1286.9,529.1 1287.4,529.4 1287.9,528.6 1288.4,529.3 1288.9,528.4 1289.4,528.7 1289.9,528 1290.4,528.4 1290.9,528.1 1291.4,527.2 1291.9,526.9 1292.4,526.6 1292.9,526.4 1293.4,526.8 1293.9,526.6 1294.4,527.5 1294.9,527.1 1295.4,527.6 1295.9,528.2 1296.4,528.2 1296.9,528.8 1297.4,528.9 1297.9,528.5 1298.4,528.2 1298.9,529 1299.4,529.1 1299.9,528.7 1300.4,528.2 1300.9,528.1 1301.4,527.7 1301.9,526.7 1302.4,526.6 1302.9,525.6 1303.4,525.6 1303.9,525.3 1304.4,525.1 1304.9,526.5 1305.4,526.7 1305.9,527.3 1306.4,527.4 1306.9,528.3 1307.4,528.6 1307.9,528.8 1308.4,528.7 1308.9,528.8 1309.4,528.4 1309.9,528.4 1310.4,529.4 1310.9,529.1 1311.4,529.4 1311.9,528.8 1312.4,528.4 1312.9,528.6 1313.4,529.1 1313.9,528.8 1314.4,528.2 1314.9,529 1315.4,528.2 1315.9,527.6 1316.4,526.8 1316.9,526.7 1317.4,526.2 1317.9,525.9 1318.4,526.2 1318.9,525.9 1319.4,526 1319.9,526.6 1320.4,526.9 1320.9,528.1 1321.4,528.7 1321.9,528.4 1322.4,528.9 1322.9,529.1 1323.4,528.7 1323.9,529.2 1324.4,529.1 1324.9,529.2 1325.4,529.2 1325.9,529.1 1326.4,528.8 1326.9,528.6 1327.4,528.8 1327.9,529.1 1328.4,528.5 1328.9,529.4 1329.4,528.8 1329.9,528.6 1330.4,528.9 1330.9,528.7 1331.4,529.4 1331.9,528.9 1332.4,529.5 1332.9,529.6 1333.4,528.7 1333.9,529.4 1334.4,529.5 1334.9,529.7 1335.4,529.1 1335.9,529.5 1336.4,529.6 1336.9,529.5 1337.4,528.9 1337.9,529 1338.4,529.3 1338.9,528.8 1339.4,528 1339.9,528.1 1340.4,527.6 1340.9,527.7 1341.4,527.1 1341.9,527.4 1342.4,527.5 1342.9,526.9 1343.4,527.6 1343.9,528.2 1344.4,527.5 1344.9,527.8 1345.4,528.5 1345.9,528.6 1346.4,528.7 1346.9,528.5 1347.4,528.3 1347.9,528.6 1348.4,529 1348.9,528.9 1349.4,529 1349.9,528.8 1350.4,529.1 1350.9,529.2 1351.4,529.1 1351.9,528.5 1352.4,528.4 1352.9,528.2 1353.4,528.5 1353.9,529 1354.4,528.4 1354.9,528 1355.4,528.8 1355.9,527.7 1356.4,528 1356.9,527.9 1357.4,527.2 1357.9,527.1 1358.4,525.9 1358.9,523 1359.4,517.9 1359.9,511.8 1360.4,502.8 1360.9,491 1361.4,480.7 1361.9,473.1 1362.3,470.3 1362.9,474.5 1363.4,483.2 1363.9,492.7 1364.4,500.8 1364.9,506.1 1365.4,506.7 1365.9,505 1366.4,502.9 1366.8,503 1367.4,506.6 1367.9,510.8 1368.4,516.6 1368.9,520.4 1369.4,523.5 1369.9,525.7 1370.4,527.2 1370.9,527.5 1371.4,528 1371.9,527.9 1372.4,528.5 1372.9,528.4 1373.4,528.3 1373.9,528.5 1374.4,528.4 1374.9,529.4 1375.4,528.5 1375.9,529.1 1376.4,528.6 1376.9,528.7 1377.4,529.1 1377.9,529.3 1378.4,528.7 1378.9,529.2 1379.4,529.2 1379.9,528.8 1380.4,528.6 1380.9,529.1 1381.4,529.4 1381.9,528.7 1382.4,529.3 1382.9,528.9 1383.4,528.8 1383.9,528.7 1384.4,528.9 1384.9,528.6 1385.4,529.5 1385.9,529.4 1386.4,529.3 1386.9,528.9 1387.4,529 1387.9,529 1388.4,529.2 1388.9,528.9 1389.4,529.1 1389.9,529.3 1390.4,529.2 1390.9,529.4 1391.4,528.9 1391.9,528.6 1392.4,528.2 1392.9,528 1393.4,527.8 1393.9,526.7 1394.4,527.1 1394.9,527 1395.4,526.5 1395.9,527.7 1396.4,527.5 1396.9,527.9 1397.4,528.1 1397.9,528.9 1398.4,529 1398.9,529.2 1399.4,528.6 1399.9,528.8 1400.4,529.7 1400.9,529.2 1401.4,529.5 1401.9,529.7 1402.4,528.9 1402.9,529.2 1403.4,529.7 1403.9,529.2 1404.4,529.8 1404.9,529.1 1405.4,529.8 1405.9,529.8 1406.4,529 1406.9,529.1 1407.4,529.2 1407.9,528.8 1408.4,529.6 1408.9,529.2 1409.4,529.1 1409.9,529.5 1410.4,529.4 1410.9,529.2 1411.4,528.8 1411.9,528.2 1412.4,528.5 1412.9,527.7 1413.4,527.6 1413.9,527.5 1414.4,526.6 1414.9,527 1415.4,526.6 1415.9,527 1416.4,527.3 1416.9,527.3 1417.4,528.6 1417.9,528.9 1418.4,528.7 1418.9,529.2 1419.4,529.1 1419.9,529.6 1420.4,529 1420.9,529.1 1421.4,529.3 1421.9,528.5 1422.4,528.7 1422.9,529.2 1423.4,529.4 1423.9,528.7 1424.4,528.8 1424.9,528.8 1425.4,529.1 1425.9,529.4 1426.4,529.1 1426.9,529 1427.4,529.2 1427.9,528.9 1428.4,529.6 1428.9,529.6 1429.4,529.4 1429.9,529.1 1430.4,528.8 1430.9,529 1431.4,529.1 1431.9,529.3 1432.4,528.8 1432.9,528.8 1433.4,529.4 1433.9,528.9 1434.4,529 1434.9,529.6 1435.4,529.7 1435.9,528.7 1436.4,529.1 1436.9,529 1437.4,529.5 1437.9,528.9 1438.4,529.4 1438.9,528.9 1439.4,528.7 1439.9,529.3 1440.4,529 1440.9,529.8 1441.4,529 1441.9,529.3 1442.4,529.6 1442.9,529.7 1443.4,529.8 1443.9,528.8 1444.4,529.8 1444.9,529.6 1445.4,528.9 1445.9,529.2 1446.4,529.5 1446.9,529.5 1447.4,529.9 1447.9,529.9 1448.4,529.3 1448.9,528.9 1449.4,528.8 1449.9,529.8 1450.4,529 1450.9,529.7 1451.4,528.9 1451.9,529.4 1452.4,529.2 1452.9,529.6 1453.4,529.8 1453.9,529.5 1454.4,529.7 1454.9,528.9 1455.4,529.7 1455.9,529.7 1456.4,529.2 1456.9,529.6 1457.4,529.3 1457.9,529.7 1458.4,529.9 1458.9,529.4 1459.4,529.1 1459.9,529.7 1460.4,529.6 1460.9,529.3 1461.4,528.9 1461.9,529.7 1462.4,529.9 1462.9,529.9 1463.4,529.3 1463.9,529.3 1464.4,529.9 1464.9,529.9" fill="none" stroke="#f00" stroke-width="6.2" stroke-linejoin="round" stroke-linecap="round"/>
<line x1="1679.8" y1="1116.6" x2="1679.8" y2="45.8" stroke="#000" stroke-width="4.9" stroke-dasharray="24.5 23.5"/>
<polyline points="1475.8,859.7 1503.8,860.4 1532.2,854.9 1558.5,839 1586.4,807.4 1616.8,780.2 1643.6,717.5 1671,593 1698.3,578.2 1726.2,667.6 1753,791.6 1780.9,853.6 1808.9,865.8 1832,867.5 1851.4,868.7 1898.9,869" fill="none" stroke="#000" stroke-width="6" stroke-linejoin="round"/>
<polyline points="1475.2,516.4 1505.6,512.4 1532.6,507.7 1560.6,500.6 1588.3,494.8 1615.3,471.2 1643.2,394.3 1670.8,250 1698,125.2 1726,83.5 1753.6,229 1781,391 1808.8,493.2 1836.4,512.4 1865.1,517.5 1898.2,519.1" fill="none" stroke="#f00" stroke-width="7" stroke-linejoin="round"/>
<line x1="1664.2" y1="1052.7" x2="1664.2" y2="1263" stroke="#000" stroke-width="5.5" stroke-linecap="round"/>
<g font-size="76" text-anchor="middle">
<text transform="translate(197.8 1363.4) scale(1 1.045)">10</text>
<text transform="translate(428 1363.4) scale(1 1.045)">20</text>
<text transform="translate(658.2 1363.4) scale(1 1.045)">30</text>
<text transform="translate(888.4 1363.4) scale(1 1.045)">40</text>
<text transform="translate(1118.6 1363.4) scale(1 1.045)">50</text>
<text transform="translate(1348.8 1363.4) scale(1 1.045)">60</text>
<text transform="translate(1581.6 1364.3) scale(0.985 1.045)">14.4</text>
<text transform="translate(1794.2 1364.3) scale(0.985 1.045)">14.6</text>
</g>
<text x="510" y="138.3" font-size="76">KGdC:<tspan class="i">x</tspan> Tb<tspan font-size="52" dy="-31">3</tspan><tspan font-size="58" dy="2">+</tspan></text>
<text transform="translate(1170.6 327.9) scale(1.012 1.04)" font-size="76"><tspan class="i">x</tspan>=0.9</text>
<text transform="translate(1163.6 738.2) scale(0.988 1.04)" font-size="76"><tspan class="i">x</tspan>=0.1</text>
<text transform="translate(865.6 970.3) scale(0.9965 1)" font-size="76">JCPDS:1-88-1422</text>
<text x="1525.3" y="977.6" font-size="76">KGd(CO<tspan font-size="52" dy="20.5">3</tspan><tspan dy="-20.5">)</tspan><tspan font-size="52" dy="20.5">2</tspan></text>
<text transform="translate(321.7 1036.6) rotate(-90) scale(1.022 1.03)" font-size="70">(110)</text>
<text transform="translate(523.6 1154.7) rotate(-90) scale(1 1.03)" font-size="70">(200)</text>
<text transform="translate(646.5 1071.7) rotate(-90) scale(1 1.03)" font-size="70">(<tspan dx="2" dy="-1.7">–</tspan><tspan dx="2.5" dy="1.7">221)</tspan></text>
<text transform="translate(813.3 1185.5) rotate(-90) scale(1 1.03)" font-size="70">(221)</text>
<text transform="translate(958.8 1199.3) rotate(-90) scale(1 1.03)" font-size="76">(202)</text>
<text transform="translate(1389.2 1222.2) rotate(-90) scale(1 1.03)" font-size="70">(<tspan dx="2" dy="-1.7">–</tspan><tspan dx="2.5" dy="1.7">352)</tspan></text>
<text transform="translate(101.8 1138.6) rotate(-90) scale(1.002 1)" font-size="105">Relative Intensity (a.u.)</text>
<text transform="translate(877.6 1435.8) scale(1.027 1)" font-size="102">2<tspan dx="1" textLength="54.4" lengthAdjust="spacingAndGlyphs">θ</tspan> (degree)</text>
</svg></body></html>
